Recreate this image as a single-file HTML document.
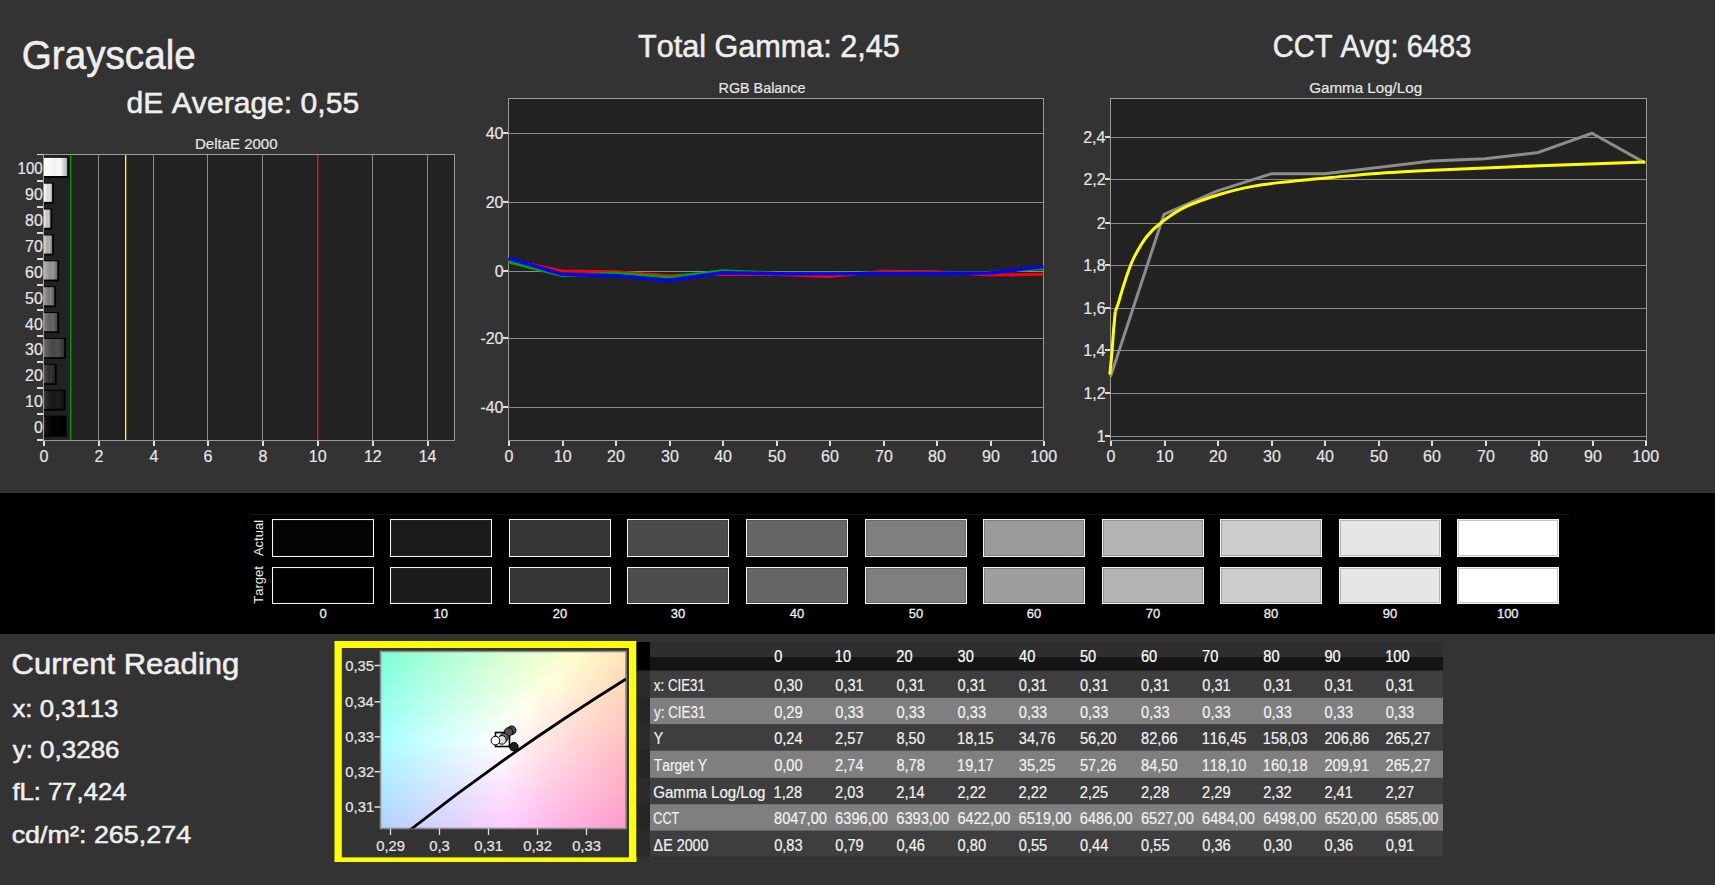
<!DOCTYPE html><html><head><meta charset="utf-8"><style>html,body{margin:0;padding:0;background:#333;overflow:hidden}svg text{font-family:"Liberation Sans",sans-serif;font-kerning:none}</style></head><body><svg width="1715" height="885" viewBox="0 0 1715 885" style="display:block;font-kerning:none"><defs><linearGradient id="bar10" x1="0" x2="1" y1="0" y2="0"><stop offset="0" stop-color="rgb(255,255,255)"/><stop offset="0.1" stop-color="rgb(255,255,255)"/><stop offset="0.45" stop-color="rgb(240,240,240)"/><stop offset="0.68" stop-color="rgb(251,251,251)"/><stop offset="0.9" stop-color="rgb(199,199,199)"/><stop offset="1" stop-color="rgb(163,163,163)"/></linearGradient><linearGradient id="bar9" x1="0" x2="1" y1="0" y2="0"><stop offset="0" stop-color="rgb(255,255,255)"/><stop offset="0.1" stop-color="rgb(246,246,246)"/><stop offset="0.45" stop-color="rgb(216,216,216)"/><stop offset="0.68" stop-color="rgb(227,227,227)"/><stop offset="0.9" stop-color="rgb(179,179,179)"/><stop offset="1" stop-color="rgb(147,147,147)"/></linearGradient><linearGradient id="bar8" x1="0" x2="1" y1="0" y2="0"><stop offset="0" stop-color="rgb(246,246,246)"/><stop offset="0.1" stop-color="rgb(220,220,220)"/><stop offset="0.45" stop-color="rgb(192,192,192)"/><stop offset="0.68" stop-color="rgb(202,202,202)"/><stop offset="0.9" stop-color="rgb(159,159,159)"/><stop offset="1" stop-color="rgb(131,131,131)"/></linearGradient><linearGradient id="bar7" x1="0" x2="1" y1="0" y2="0"><stop offset="0" stop-color="rgb(221,221,221)"/><stop offset="0.1" stop-color="rgb(195,195,195)"/><stop offset="0.45" stop-color="rgb(168,168,168)"/><stop offset="0.68" stop-color="rgb(178,178,178)"/><stop offset="0.9" stop-color="rgb(140,140,140)"/><stop offset="1" stop-color="rgb(115,115,115)"/></linearGradient><linearGradient id="bar6" x1="0" x2="1" y1="0" y2="0"><stop offset="0" stop-color="rgb(195,195,195)"/><stop offset="0.1" stop-color="rgb(169,169,169)"/><stop offset="0.45" stop-color="rgb(143,143,143)"/><stop offset="0.68" stop-color="rgb(152,152,152)"/><stop offset="0.9" stop-color="rgb(119,119,119)"/><stop offset="1" stop-color="rgb(98,98,98)"/></linearGradient><linearGradient id="bar5" x1="0" x2="1" y1="0" y2="0"><stop offset="0" stop-color="rgb(170,170,170)"/><stop offset="0.1" stop-color="rgb(144,144,144)"/><stop offset="0.45" stop-color="rgb(120,120,120)"/><stop offset="0.68" stop-color="rgb(128,128,128)"/><stop offset="0.9" stop-color="rgb(100,100,100)"/><stop offset="1" stop-color="rgb(82,82,82)"/></linearGradient><linearGradient id="bar4" x1="0" x2="1" y1="0" y2="0"><stop offset="0" stop-color="rgb(144,144,144)"/><stop offset="0.1" stop-color="rgb(118,118,118)"/><stop offset="0.45" stop-color="rgb(95,95,95)"/><stop offset="0.68" stop-color="rgb(103,103,103)"/><stop offset="0.9" stop-color="rgb(80,80,80)"/><stop offset="1" stop-color="rgb(65,65,65)"/></linearGradient><linearGradient id="bar3" x1="0" x2="1" y1="0" y2="0"><stop offset="0" stop-color="rgb(119,119,119)"/><stop offset="0.1" stop-color="rgb(93,93,93)"/><stop offset="0.45" stop-color="rgb(71,71,71)"/><stop offset="0.68" stop-color="rgb(79,79,79)"/><stop offset="0.9" stop-color="rgb(60,60,60)"/><stop offset="1" stop-color="rgb(49,49,49)"/></linearGradient><linearGradient id="bar2" x1="0" x2="1" y1="0" y2="0"><stop offset="0" stop-color="rgb(93,93,93)"/><stop offset="0.1" stop-color="rgb(67,67,67)"/><stop offset="0.45" stop-color="rgb(46,46,46)"/><stop offset="0.68" stop-color="rgb(53,53,53)"/><stop offset="0.9" stop-color="rgb(40,40,40)"/><stop offset="1" stop-color="rgb(33,33,33)"/></linearGradient><linearGradient id="bar1" x1="0" x2="1" y1="0" y2="0"><stop offset="0" stop-color="rgb(68,68,68)"/><stop offset="0.1" stop-color="rgb(42,42,42)"/><stop offset="0.45" stop-color="rgb(23,23,23)"/><stop offset="0.68" stop-color="rgb(29,29,29)"/><stop offset="0.9" stop-color="rgb(20,20,20)"/><stop offset="1" stop-color="rgb(17,17,17)"/></linearGradient><linearGradient id="bar0" x1="0" x2="1" y1="0" y2="0"><stop offset="0" stop-color="rgb(42,42,42)"/><stop offset="0.1" stop-color="rgb(16,16,16)"/><stop offset="0.45" stop-color="rgb(0,0,0)"/><stop offset="0.68" stop-color="rgb(4,4,4)"/><stop offset="0.9" stop-color="rgb(0,0,0)"/><stop offset="1" stop-color="rgb(0,0,0)"/></linearGradient><linearGradient id="cr0"><stop offset="0.00" stop-color="#7bffd6"/><stop offset="0.10" stop-color="#91ffd5"/><stop offset="0.20" stop-color="#a4ffd4"/><stop offset="0.30" stop-color="#b6ffd3"/><stop offset="0.40" stop-color="#c6ffd2"/><stop offset="0.50" stop-color="#d5ffd0"/><stop offset="0.60" stop-color="#e4ffcf"/><stop offset="0.70" stop-color="#f2ffce"/><stop offset="0.80" stop-color="#fffecc"/><stop offset="0.90" stop-color="#fff1c0"/><stop offset="1.00" stop-color="#ffe6b5"/></linearGradient><linearGradient id="cr1"><stop offset="0.00" stop-color="#7bffd7"/><stop offset="0.10" stop-color="#92ffd6"/><stop offset="0.20" stop-color="#a5ffd5"/><stop offset="0.30" stop-color="#b6ffd4"/><stop offset="0.40" stop-color="#c7ffd3"/><stop offset="0.50" stop-color="#d6ffd1"/><stop offset="0.60" stop-color="#e5ffd0"/><stop offset="0.70" stop-color="#f3ffcf"/><stop offset="0.80" stop-color="#fffdcc"/><stop offset="0.90" stop-color="#fff0c0"/><stop offset="1.00" stop-color="#ffe5b5"/></linearGradient><linearGradient id="cr2"><stop offset="0.00" stop-color="#7cffd8"/><stop offset="0.10" stop-color="#93ffd7"/><stop offset="0.20" stop-color="#a6ffd6"/><stop offset="0.30" stop-color="#b7ffd5"/><stop offset="0.40" stop-color="#c8ffd4"/><stop offset="0.50" stop-color="#d7ffd2"/><stop offset="0.60" stop-color="#e6ffd1"/><stop offset="0.70" stop-color="#f4ffd0"/><stop offset="0.80" stop-color="#fffccc"/><stop offset="0.90" stop-color="#fff0c0"/><stop offset="1.00" stop-color="#ffe4b6"/></linearGradient><linearGradient id="cr3"><stop offset="0.00" stop-color="#7dffd9"/><stop offset="0.10" stop-color="#93ffd8"/><stop offset="0.20" stop-color="#a7ffd7"/><stop offset="0.30" stop-color="#b8ffd6"/><stop offset="0.40" stop-color="#c8ffd5"/><stop offset="0.50" stop-color="#d8ffd3"/><stop offset="0.60" stop-color="#e7ffd2"/><stop offset="0.70" stop-color="#f5ffd1"/><stop offset="0.80" stop-color="#fffbcc"/><stop offset="0.90" stop-color="#ffefc1"/><stop offset="1.00" stop-color="#ffe3b6"/></linearGradient><linearGradient id="cr4"><stop offset="0.00" stop-color="#7effd9"/><stop offset="0.10" stop-color="#94ffd9"/><stop offset="0.20" stop-color="#a8ffd8"/><stop offset="0.30" stop-color="#b9ffd7"/><stop offset="0.40" stop-color="#c9ffd5"/><stop offset="0.50" stop-color="#d9ffd4"/><stop offset="0.60" stop-color="#e7ffd3"/><stop offset="0.70" stop-color="#f6ffd2"/><stop offset="0.80" stop-color="#fffacd"/><stop offset="0.90" stop-color="#ffeec1"/><stop offset="1.00" stop-color="#ffe2b6"/></linearGradient><linearGradient id="cr5"><stop offset="0.00" stop-color="#7fffda"/><stop offset="0.10" stop-color="#95ffd9"/><stop offset="0.20" stop-color="#a8ffd8"/><stop offset="0.30" stop-color="#baffd7"/><stop offset="0.40" stop-color="#caffd6"/><stop offset="0.50" stop-color="#daffd5"/><stop offset="0.60" stop-color="#e8ffd4"/><stop offset="0.70" stop-color="#f7ffd3"/><stop offset="0.80" stop-color="#fff9cd"/><stop offset="0.90" stop-color="#ffedc1"/><stop offset="1.00" stop-color="#ffe2b7"/></linearGradient><linearGradient id="cr6"><stop offset="0.00" stop-color="#80ffdb"/><stop offset="0.10" stop-color="#96ffda"/><stop offset="0.20" stop-color="#a9ffd9"/><stop offset="0.30" stop-color="#bbffd8"/><stop offset="0.40" stop-color="#cbffd7"/><stop offset="0.50" stop-color="#daffd6"/><stop offset="0.60" stop-color="#e9ffd5"/><stop offset="0.70" stop-color="#f8ffd4"/><stop offset="0.80" stop-color="#fff9cd"/><stop offset="0.90" stop-color="#ffecc2"/><stop offset="1.00" stop-color="#ffe1b7"/></linearGradient><linearGradient id="cr7"><stop offset="0.00" stop-color="#81ffdc"/><stop offset="0.10" stop-color="#97ffdb"/><stop offset="0.20" stop-color="#aaffda"/><stop offset="0.30" stop-color="#bcffd9"/><stop offset="0.40" stop-color="#ccffd8"/><stop offset="0.50" stop-color="#dbffd7"/><stop offset="0.60" stop-color="#eaffd6"/><stop offset="0.70" stop-color="#f9ffd5"/><stop offset="0.80" stop-color="#fff8ce"/><stop offset="0.90" stop-color="#ffebc2"/><stop offset="1.00" stop-color="#ffe0b7"/></linearGradient><linearGradient id="cr8"><stop offset="0.00" stop-color="#82ffdd"/><stop offset="0.10" stop-color="#98ffdc"/><stop offset="0.20" stop-color="#abffdb"/><stop offset="0.30" stop-color="#bdffda"/><stop offset="0.40" stop-color="#cdffd9"/><stop offset="0.50" stop-color="#dcffd8"/><stop offset="0.60" stop-color="#ebffd7"/><stop offset="0.70" stop-color="#f9ffd6"/><stop offset="0.80" stop-color="#fff7ce"/><stop offset="0.90" stop-color="#ffeac2"/><stop offset="1.00" stop-color="#ffdfb8"/></linearGradient><linearGradient id="cr9"><stop offset="0.00" stop-color="#83ffde"/><stop offset="0.10" stop-color="#99ffdd"/><stop offset="0.20" stop-color="#acffdc"/><stop offset="0.30" stop-color="#bdffdb"/><stop offset="0.40" stop-color="#ceffda"/><stop offset="0.50" stop-color="#ddffd9"/><stop offset="0.60" stop-color="#ecffd8"/><stop offset="0.70" stop-color="#faffd7"/><stop offset="0.80" stop-color="#fff6ce"/><stop offset="0.90" stop-color="#ffe9c2"/><stop offset="1.00" stop-color="#ffdeb8"/></linearGradient><linearGradient id="cr10"><stop offset="0.00" stop-color="#84ffdf"/><stop offset="0.10" stop-color="#9affde"/><stop offset="0.20" stop-color="#adffdd"/><stop offset="0.30" stop-color="#beffdc"/><stop offset="0.40" stop-color="#cfffdb"/><stop offset="0.50" stop-color="#deffda"/><stop offset="0.60" stop-color="#edffd9"/><stop offset="0.70" stop-color="#fbffd8"/><stop offset="0.80" stop-color="#fff5ce"/><stop offset="0.90" stop-color="#ffe9c3"/><stop offset="1.00" stop-color="#ffdeb8"/></linearGradient><linearGradient id="cr11"><stop offset="0.00" stop-color="#85ffe0"/><stop offset="0.10" stop-color="#9bffdf"/><stop offset="0.20" stop-color="#aeffde"/><stop offset="0.30" stop-color="#bfffdd"/><stop offset="0.40" stop-color="#cfffdc"/><stop offset="0.50" stop-color="#dfffdb"/><stop offset="0.60" stop-color="#eeffda"/><stop offset="0.70" stop-color="#fcffd9"/><stop offset="0.80" stop-color="#fff4cf"/><stop offset="0.90" stop-color="#ffe8c3"/><stop offset="1.00" stop-color="#ffddb9"/></linearGradient><linearGradient id="cr12"><stop offset="0.00" stop-color="#86ffe0"/><stop offset="0.10" stop-color="#9cffe0"/><stop offset="0.20" stop-color="#afffdf"/><stop offset="0.30" stop-color="#c0ffde"/><stop offset="0.40" stop-color="#d0ffdd"/><stop offset="0.50" stop-color="#e0ffdc"/><stop offset="0.60" stop-color="#efffdb"/><stop offset="0.70" stop-color="#fdffda"/><stop offset="0.80" stop-color="#fff3cf"/><stop offset="0.90" stop-color="#ffe7c3"/><stop offset="1.00" stop-color="#ffdcb9"/></linearGradient><linearGradient id="cr13"><stop offset="0.00" stop-color="#87ffe1"/><stop offset="0.10" stop-color="#9dffe1"/><stop offset="0.20" stop-color="#b0ffe0"/><stop offset="0.30" stop-color="#c1ffdf"/><stop offset="0.40" stop-color="#d1ffde"/><stop offset="0.50" stop-color="#e1ffdd"/><stop offset="0.60" stop-color="#f0ffdc"/><stop offset="0.70" stop-color="#feffdb"/><stop offset="0.80" stop-color="#fff2cf"/><stop offset="0.90" stop-color="#ffe6c4"/><stop offset="1.00" stop-color="#ffdbb9"/></linearGradient><linearGradient id="cr14"><stop offset="0.00" stop-color="#88ffe2"/><stop offset="0.10" stop-color="#9dffe1"/><stop offset="0.20" stop-color="#b0ffe1"/><stop offset="0.30" stop-color="#c2ffe0"/><stop offset="0.40" stop-color="#d2ffdf"/><stop offset="0.50" stop-color="#e2ffde"/><stop offset="0.60" stop-color="#f1ffdd"/><stop offset="0.70" stop-color="#ffffdc"/><stop offset="0.80" stop-color="#fff1cf"/><stop offset="0.90" stop-color="#ffe5c4"/><stop offset="1.00" stop-color="#ffdab9"/></linearGradient><linearGradient id="cr15"><stop offset="0.00" stop-color="#89ffe3"/><stop offset="0.10" stop-color="#9effe2"/><stop offset="0.20" stop-color="#b1ffe2"/><stop offset="0.30" stop-color="#c3ffe1"/><stop offset="0.40" stop-color="#d3ffe0"/><stop offset="0.50" stop-color="#e3ffdf"/><stop offset="0.60" stop-color="#f2ffde"/><stop offset="0.70" stop-color="#fffedc"/><stop offset="0.80" stop-color="#fff0d0"/><stop offset="0.90" stop-color="#ffe4c4"/><stop offset="1.00" stop-color="#ffd9ba"/></linearGradient><linearGradient id="cr16"><stop offset="0.00" stop-color="#8affe4"/><stop offset="0.10" stop-color="#9fffe3"/><stop offset="0.20" stop-color="#b2ffe3"/><stop offset="0.30" stop-color="#c4ffe2"/><stop offset="0.40" stop-color="#d4ffe1"/><stop offset="0.50" stop-color="#e4ffe0"/><stop offset="0.60" stop-color="#f3ffdf"/><stop offset="0.70" stop-color="#fffddd"/><stop offset="0.80" stop-color="#ffefd0"/><stop offset="0.90" stop-color="#ffe3c4"/><stop offset="1.00" stop-color="#ffd9ba"/></linearGradient><linearGradient id="cr17"><stop offset="0.00" stop-color="#8bffe5"/><stop offset="0.10" stop-color="#a0ffe4"/><stop offset="0.20" stop-color="#b3ffe4"/><stop offset="0.30" stop-color="#c5ffe3"/><stop offset="0.40" stop-color="#d5ffe2"/><stop offset="0.50" stop-color="#e5ffe1"/><stop offset="0.60" stop-color="#f4ffe0"/><stop offset="0.70" stop-color="#fffcdd"/><stop offset="0.80" stop-color="#ffeed0"/><stop offset="0.90" stop-color="#ffe3c5"/><stop offset="1.00" stop-color="#ffd8ba"/></linearGradient><linearGradient id="cr18"><stop offset="0.00" stop-color="#8cffe6"/><stop offset="0.10" stop-color="#a1ffe5"/><stop offset="0.20" stop-color="#b4ffe5"/><stop offset="0.30" stop-color="#c5ffe4"/><stop offset="0.40" stop-color="#d6ffe3"/><stop offset="0.50" stop-color="#e5ffe2"/><stop offset="0.60" stop-color="#f5ffe2"/><stop offset="0.70" stop-color="#fffbdd"/><stop offset="0.80" stop-color="#ffeed0"/><stop offset="0.90" stop-color="#ffe2c5"/><stop offset="1.00" stop-color="#ffd7bb"/></linearGradient><linearGradient id="cr19"><stop offset="0.00" stop-color="#8dffe7"/><stop offset="0.10" stop-color="#a2ffe6"/><stop offset="0.20" stop-color="#b5ffe5"/><stop offset="0.30" stop-color="#c6ffe5"/><stop offset="0.40" stop-color="#d7ffe4"/><stop offset="0.50" stop-color="#e6ffe3"/><stop offset="0.60" stop-color="#f6ffe3"/><stop offset="0.70" stop-color="#fffadd"/><stop offset="0.80" stop-color="#ffedd1"/><stop offset="0.90" stop-color="#ffe1c5"/><stop offset="1.00" stop-color="#ffd6bb"/></linearGradient><linearGradient id="cr20"><stop offset="0.00" stop-color="#8effe8"/><stop offset="0.10" stop-color="#a3ffe7"/><stop offset="0.20" stop-color="#b6ffe6"/><stop offset="0.30" stop-color="#c7ffe6"/><stop offset="0.40" stop-color="#d8ffe5"/><stop offset="0.50" stop-color="#e7ffe4"/><stop offset="0.60" stop-color="#f7ffe4"/><stop offset="0.70" stop-color="#fff9dd"/><stop offset="0.80" stop-color="#ffecd1"/><stop offset="0.90" stop-color="#ffe0c5"/><stop offset="1.00" stop-color="#ffd5bb"/></linearGradient><linearGradient id="cr21"><stop offset="0.00" stop-color="#8fffe9"/><stop offset="0.10" stop-color="#a4ffe8"/><stop offset="0.20" stop-color="#b7ffe7"/><stop offset="0.30" stop-color="#c8ffe7"/><stop offset="0.40" stop-color="#d9ffe6"/><stop offset="0.50" stop-color="#e8ffe5"/><stop offset="0.60" stop-color="#f8ffe5"/><stop offset="0.70" stop-color="#fff8de"/><stop offset="0.80" stop-color="#ffebd1"/><stop offset="0.90" stop-color="#ffdfc6"/><stop offset="1.00" stop-color="#ffd4bb"/></linearGradient><linearGradient id="cr22"><stop offset="0.00" stop-color="#90ffe9"/><stop offset="0.10" stop-color="#a5ffe9"/><stop offset="0.20" stop-color="#b8ffe8"/><stop offset="0.30" stop-color="#c9ffe8"/><stop offset="0.40" stop-color="#daffe7"/><stop offset="0.50" stop-color="#e9ffe7"/><stop offset="0.60" stop-color="#f8ffe6"/><stop offset="0.70" stop-color="#fff7de"/><stop offset="0.80" stop-color="#ffead1"/><stop offset="0.90" stop-color="#ffdec6"/><stop offset="1.00" stop-color="#ffd4bc"/></linearGradient><linearGradient id="cr23"><stop offset="0.00" stop-color="#91ffea"/><stop offset="0.10" stop-color="#a6ffea"/><stop offset="0.20" stop-color="#b9ffe9"/><stop offset="0.30" stop-color="#caffe9"/><stop offset="0.40" stop-color="#dbffe8"/><stop offset="0.50" stop-color="#eaffe8"/><stop offset="0.60" stop-color="#faffe7"/><stop offset="0.70" stop-color="#fff6de"/><stop offset="0.80" stop-color="#ffe9d1"/><stop offset="0.90" stop-color="#ffddc6"/><stop offset="1.00" stop-color="#ffd3bc"/></linearGradient><linearGradient id="cr24"><stop offset="0.00" stop-color="#92ffeb"/><stop offset="0.10" stop-color="#a7ffeb"/><stop offset="0.20" stop-color="#baffea"/><stop offset="0.30" stop-color="#cbffea"/><stop offset="0.40" stop-color="#dbffe9"/><stop offset="0.50" stop-color="#ebffe9"/><stop offset="0.60" stop-color="#fbffe8"/><stop offset="0.70" stop-color="#fff5de"/><stop offset="0.80" stop-color="#ffe8d2"/><stop offset="0.90" stop-color="#ffdcc7"/><stop offset="1.00" stop-color="#ffd2bc"/></linearGradient><linearGradient id="cr25"><stop offset="0.00" stop-color="#93ffec"/><stop offset="0.10" stop-color="#a8ffec"/><stop offset="0.20" stop-color="#baffeb"/><stop offset="0.30" stop-color="#ccffeb"/><stop offset="0.40" stop-color="#dcffea"/><stop offset="0.50" stop-color="#ecffea"/><stop offset="0.60" stop-color="#fcffe9"/><stop offset="0.70" stop-color="#fff4de"/><stop offset="0.80" stop-color="#ffe7d2"/><stop offset="0.90" stop-color="#ffdcc7"/><stop offset="1.00" stop-color="#ffd1bd"/></linearGradient><linearGradient id="cr26"><stop offset="0.00" stop-color="#94ffed"/><stop offset="0.10" stop-color="#a9ffed"/><stop offset="0.20" stop-color="#bbffec"/><stop offset="0.30" stop-color="#cdffec"/><stop offset="0.40" stop-color="#ddffeb"/><stop offset="0.50" stop-color="#edffeb"/><stop offset="0.60" stop-color="#fdffea"/><stop offset="0.70" stop-color="#fff3df"/><stop offset="0.80" stop-color="#ffe6d2"/><stop offset="0.90" stop-color="#ffdbc7"/><stop offset="1.00" stop-color="#ffd0bd"/></linearGradient><linearGradient id="cr27"><stop offset="0.00" stop-color="#95ffee"/><stop offset="0.10" stop-color="#aaffee"/><stop offset="0.20" stop-color="#bcffed"/><stop offset="0.30" stop-color="#ceffed"/><stop offset="0.40" stop-color="#deffec"/><stop offset="0.50" stop-color="#eeffec"/><stop offset="0.60" stop-color="#feffeb"/><stop offset="0.70" stop-color="#fff2df"/><stop offset="0.80" stop-color="#ffe5d2"/><stop offset="0.90" stop-color="#ffdac7"/><stop offset="1.00" stop-color="#ffcfbd"/></linearGradient><linearGradient id="cr28"><stop offset="0.00" stop-color="#96ffef"/><stop offset="0.10" stop-color="#abffef"/><stop offset="0.20" stop-color="#bdffee"/><stop offset="0.30" stop-color="#cfffee"/><stop offset="0.40" stop-color="#dfffed"/><stop offset="0.50" stop-color="#efffed"/><stop offset="0.60" stop-color="#ffffec"/><stop offset="0.70" stop-color="#fff1df"/><stop offset="0.80" stop-color="#ffe4d3"/><stop offset="0.90" stop-color="#ffd9c8"/><stop offset="1.00" stop-color="#ffcfbd"/></linearGradient><linearGradient id="cr29"><stop offset="0.00" stop-color="#97fff0"/><stop offset="0.10" stop-color="#abfff0"/><stop offset="0.20" stop-color="#beffef"/><stop offset="0.30" stop-color="#d0ffef"/><stop offset="0.40" stop-color="#e0ffee"/><stop offset="0.50" stop-color="#f0ffee"/><stop offset="0.60" stop-color="#fffeed"/><stop offset="0.70" stop-color="#fff0df"/><stop offset="0.80" stop-color="#ffe3d3"/><stop offset="0.90" stop-color="#ffd8c8"/><stop offset="1.00" stop-color="#ffcebe"/></linearGradient><linearGradient id="cr30"><stop offset="0.00" stop-color="#98fff1"/><stop offset="0.10" stop-color="#acfff1"/><stop offset="0.20" stop-color="#bffff0"/><stop offset="0.30" stop-color="#d1fff0"/><stop offset="0.40" stop-color="#e1fff0"/><stop offset="0.50" stop-color="#f1ffef"/><stop offset="0.60" stop-color="#fffded"/><stop offset="0.70" stop-color="#ffefdf"/><stop offset="0.80" stop-color="#ffe3d3"/><stop offset="0.90" stop-color="#ffd7c8"/><stop offset="1.00" stop-color="#ffcdbe"/></linearGradient><linearGradient id="cr31"><stop offset="0.00" stop-color="#99fff2"/><stop offset="0.10" stop-color="#adfff2"/><stop offset="0.20" stop-color="#c0fff1"/><stop offset="0.30" stop-color="#d2fff1"/><stop offset="0.40" stop-color="#e2fff1"/><stop offset="0.50" stop-color="#f2fff0"/><stop offset="0.60" stop-color="#fffced"/><stop offset="0.70" stop-color="#ffeee0"/><stop offset="0.80" stop-color="#ffe2d3"/><stop offset="0.90" stop-color="#ffd6c8"/><stop offset="1.00" stop-color="#ffccbe"/></linearGradient><linearGradient id="cr32"><stop offset="0.00" stop-color="#9afff3"/><stop offset="0.10" stop-color="#aefff3"/><stop offset="0.20" stop-color="#c1fff2"/><stop offset="0.30" stop-color="#d3fff2"/><stop offset="0.40" stop-color="#e3fff2"/><stop offset="0.50" stop-color="#f3fff1"/><stop offset="0.60" stop-color="#fffbed"/><stop offset="0.70" stop-color="#ffede0"/><stop offset="0.80" stop-color="#ffe1d4"/><stop offset="0.90" stop-color="#ffd6c9"/><stop offset="1.00" stop-color="#ffcbbf"/></linearGradient><linearGradient id="cr33"><stop offset="0.00" stop-color="#9bfff4"/><stop offset="0.10" stop-color="#affff4"/><stop offset="0.20" stop-color="#c2fff3"/><stop offset="0.30" stop-color="#d4fff3"/><stop offset="0.40" stop-color="#e4fff3"/><stop offset="0.50" stop-color="#f4fff2"/><stop offset="0.60" stop-color="#fffaee"/><stop offset="0.70" stop-color="#ffece0"/><stop offset="0.80" stop-color="#ffe0d4"/><stop offset="0.90" stop-color="#ffd5c9"/><stop offset="1.00" stop-color="#ffcbbf"/></linearGradient><linearGradient id="cr34"><stop offset="0.00" stop-color="#9cfff5"/><stop offset="0.10" stop-color="#b0fff5"/><stop offset="0.20" stop-color="#c3fff4"/><stop offset="0.30" stop-color="#d5fff4"/><stop offset="0.40" stop-color="#e5fff4"/><stop offset="0.50" stop-color="#f5fff4"/><stop offset="0.60" stop-color="#fff9ee"/><stop offset="0.70" stop-color="#ffebe0"/><stop offset="0.80" stop-color="#ffdfd4"/><stop offset="0.90" stop-color="#ffd4c9"/><stop offset="1.00" stop-color="#ffcabf"/></linearGradient><linearGradient id="cr35"><stop offset="0.00" stop-color="#9dfff6"/><stop offset="0.10" stop-color="#b1fff6"/><stop offset="0.20" stop-color="#c4fff5"/><stop offset="0.30" stop-color="#d6fff5"/><stop offset="0.40" stop-color="#e6fff5"/><stop offset="0.50" stop-color="#f6fff5"/><stop offset="0.60" stop-color="#fff8ee"/><stop offset="0.70" stop-color="#ffeae0"/><stop offset="0.80" stop-color="#ffded4"/><stop offset="0.90" stop-color="#ffd3c9"/><stop offset="1.00" stop-color="#ffc9bf"/></linearGradient><linearGradient id="cr36"><stop offset="0.00" stop-color="#9efff7"/><stop offset="0.10" stop-color="#b2fff7"/><stop offset="0.20" stop-color="#c5fff7"/><stop offset="0.30" stop-color="#d7fff6"/><stop offset="0.40" stop-color="#e7fff6"/><stop offset="0.50" stop-color="#f7fff6"/><stop offset="0.60" stop-color="#fff7ee"/><stop offset="0.70" stop-color="#ffe9e0"/><stop offset="0.80" stop-color="#ffddd4"/><stop offset="0.90" stop-color="#ffd2ca"/><stop offset="1.00" stop-color="#ffc8c0"/></linearGradient><linearGradient id="cr37"><stop offset="0.00" stop-color="#9ffff8"/><stop offset="0.10" stop-color="#b3fff8"/><stop offset="0.20" stop-color="#c6fff8"/><stop offset="0.30" stop-color="#d8fff7"/><stop offset="0.40" stop-color="#e8fff7"/><stop offset="0.50" stop-color="#f8fff7"/><stop offset="0.60" stop-color="#fff6ee"/><stop offset="0.70" stop-color="#ffe8e1"/><stop offset="0.80" stop-color="#ffdcd5"/><stop offset="0.90" stop-color="#ffd1ca"/><stop offset="1.00" stop-color="#ffc7c0"/></linearGradient><linearGradient id="cr38"><stop offset="0.00" stop-color="#a0fff9"/><stop offset="0.10" stop-color="#b4fff9"/><stop offset="0.20" stop-color="#c7fff9"/><stop offset="0.30" stop-color="#d9fff8"/><stop offset="0.40" stop-color="#e9fff8"/><stop offset="0.50" stop-color="#fafff8"/><stop offset="0.60" stop-color="#fff5ee"/><stop offset="0.70" stop-color="#ffe7e1"/><stop offset="0.80" stop-color="#ffdbd5"/><stop offset="0.90" stop-color="#ffd0ca"/><stop offset="1.00" stop-color="#ffc6c0"/></linearGradient><linearGradient id="cr39"><stop offset="0.00" stop-color="#a1fffa"/><stop offset="0.10" stop-color="#b5fffa"/><stop offset="0.20" stop-color="#c8fffa"/><stop offset="0.30" stop-color="#dafffa"/><stop offset="0.40" stop-color="#eafff9"/><stop offset="0.50" stop-color="#fbfff9"/><stop offset="0.60" stop-color="#fff4ee"/><stop offset="0.70" stop-color="#ffe6e1"/><stop offset="0.80" stop-color="#ffdad5"/><stop offset="0.90" stop-color="#ffcfca"/><stop offset="1.00" stop-color="#ffc6c0"/></linearGradient><linearGradient id="cr40"><stop offset="0.00" stop-color="#a2fffb"/><stop offset="0.10" stop-color="#b6fffb"/><stop offset="0.20" stop-color="#c9fffb"/><stop offset="0.30" stop-color="#dbfffb"/><stop offset="0.40" stop-color="#ebfffb"/><stop offset="0.50" stop-color="#fcfffa"/><stop offset="0.60" stop-color="#fff3ef"/><stop offset="0.70" stop-color="#ffe6e1"/><stop offset="0.80" stop-color="#ffd9d5"/><stop offset="0.90" stop-color="#ffcfca"/><stop offset="1.00" stop-color="#ffc5c1"/></linearGradient><linearGradient id="cr41"><stop offset="0.00" stop-color="#a3fffc"/><stop offset="0.10" stop-color="#b7fffc"/><stop offset="0.20" stop-color="#cafffc"/><stop offset="0.30" stop-color="#dcfffc"/><stop offset="0.40" stop-color="#ecfffc"/><stop offset="0.50" stop-color="#fdfffc"/><stop offset="0.60" stop-color="#fff2ef"/><stop offset="0.70" stop-color="#ffe5e1"/><stop offset="0.80" stop-color="#ffd9d5"/><stop offset="0.90" stop-color="#ffcecb"/><stop offset="1.00" stop-color="#ffc4c1"/></linearGradient><linearGradient id="cr42"><stop offset="0.00" stop-color="#a4fffd"/><stop offset="0.10" stop-color="#b8fffd"/><stop offset="0.20" stop-color="#cbfffd"/><stop offset="0.30" stop-color="#ddfffd"/><stop offset="0.40" stop-color="#eefffd"/><stop offset="0.50" stop-color="#fefffd"/><stop offset="0.60" stop-color="#fff1ef"/><stop offset="0.70" stop-color="#ffe4e2"/><stop offset="0.80" stop-color="#ffd8d6"/><stop offset="0.90" stop-color="#ffcdcb"/><stop offset="1.00" stop-color="#ffc3c1"/></linearGradient><linearGradient id="cr43"><stop offset="0.00" stop-color="#a5fffe"/><stop offset="0.10" stop-color="#b9fffe"/><stop offset="0.20" stop-color="#ccfffe"/><stop offset="0.30" stop-color="#defffe"/><stop offset="0.40" stop-color="#effffe"/><stop offset="0.50" stop-color="#fffffe"/><stop offset="0.60" stop-color="#fff0ef"/><stop offset="0.70" stop-color="#ffe3e2"/><stop offset="0.80" stop-color="#ffd7d6"/><stop offset="0.90" stop-color="#ffcccb"/><stop offset="1.00" stop-color="#ffc2c1"/></linearGradient><linearGradient id="cr44"><stop offset="0.00" stop-color="#a6ffff"/><stop offset="0.10" stop-color="#baffff"/><stop offset="0.20" stop-color="#cdffff"/><stop offset="0.30" stop-color="#dfffff"/><stop offset="0.40" stop-color="#f0ffff"/><stop offset="0.50" stop-color="#fffefe"/><stop offset="0.60" stop-color="#ffefef"/><stop offset="0.70" stop-color="#ffe2e2"/><stop offset="0.80" stop-color="#ffd6d6"/><stop offset="0.90" stop-color="#ffcbcb"/><stop offset="1.00" stop-color="#ffc1c2"/></linearGradient><linearGradient id="cr45"><stop offset="0.00" stop-color="#a6feff"/><stop offset="0.10" stop-color="#bafeff"/><stop offset="0.20" stop-color="#cdfeff"/><stop offset="0.30" stop-color="#dffeff"/><stop offset="0.40" stop-color="#f0feff"/><stop offset="0.50" stop-color="#fffdfe"/><stop offset="0.60" stop-color="#ffeeef"/><stop offset="0.70" stop-color="#ffe1e2"/><stop offset="0.80" stop-color="#ffd5d6"/><stop offset="0.90" stop-color="#ffcacc"/><stop offset="1.00" stop-color="#ffc0c2"/></linearGradient><linearGradient id="cr46"><stop offset="0.00" stop-color="#a6fdff"/><stop offset="0.10" stop-color="#bbfdff"/><stop offset="0.20" stop-color="#cdfdff"/><stop offset="0.30" stop-color="#dffdff"/><stop offset="0.40" stop-color="#effdff"/><stop offset="0.50" stop-color="#fffcfe"/><stop offset="0.60" stop-color="#ffedef"/><stop offset="0.70" stop-color="#ffe0e2"/><stop offset="0.80" stop-color="#ffd4d6"/><stop offset="0.90" stop-color="#ffc9cc"/><stop offset="1.00" stop-color="#ffc0c2"/></linearGradient><linearGradient id="cr47"><stop offset="0.00" stop-color="#a7fcff"/><stop offset="0.10" stop-color="#bbfcff"/><stop offset="0.20" stop-color="#cdfcff"/><stop offset="0.30" stop-color="#dffcff"/><stop offset="0.40" stop-color="#effbff"/><stop offset="0.50" stop-color="#fffbfe"/><stop offset="0.60" stop-color="#ffecf0"/><stop offset="0.70" stop-color="#ffdfe2"/><stop offset="0.80" stop-color="#ffd3d7"/><stop offset="0.90" stop-color="#ffc8cc"/><stop offset="1.00" stop-color="#ffbfc2"/></linearGradient><linearGradient id="cr48"><stop offset="0.00" stop-color="#a7fbff"/><stop offset="0.10" stop-color="#bbfbff"/><stop offset="0.20" stop-color="#cdfbff"/><stop offset="0.30" stop-color="#dffaff"/><stop offset="0.40" stop-color="#effaff"/><stop offset="0.50" stop-color="#fffafe"/><stop offset="0.60" stop-color="#ffebf0"/><stop offset="0.70" stop-color="#ffdee3"/><stop offset="0.80" stop-color="#ffd2d7"/><stop offset="0.90" stop-color="#ffc8cc"/><stop offset="1.00" stop-color="#ffbec3"/></linearGradient><linearGradient id="cr49"><stop offset="0.00" stop-color="#a7faff"/><stop offset="0.10" stop-color="#bbfaff"/><stop offset="0.20" stop-color="#cefaff"/><stop offset="0.30" stop-color="#dff9ff"/><stop offset="0.40" stop-color="#eff9ff"/><stop offset="0.50" stop-color="#fff8ff"/><stop offset="0.60" stop-color="#ffeaf0"/><stop offset="0.70" stop-color="#ffdde3"/><stop offset="0.80" stop-color="#ffd1d7"/><stop offset="0.90" stop-color="#ffc7cc"/><stop offset="1.00" stop-color="#ffbdc3"/></linearGradient><linearGradient id="cr50"><stop offset="0.00" stop-color="#a8f9ff"/><stop offset="0.10" stop-color="#bbf9ff"/><stop offset="0.20" stop-color="#cef8ff"/><stop offset="0.30" stop-color="#dff8ff"/><stop offset="0.40" stop-color="#eff8ff"/><stop offset="0.50" stop-color="#fff7ff"/><stop offset="0.60" stop-color="#ffe9f0"/><stop offset="0.70" stop-color="#ffdce3"/><stop offset="0.80" stop-color="#ffd0d7"/><stop offset="0.90" stop-color="#ffc6cd"/><stop offset="1.00" stop-color="#ffbcc3"/></linearGradient><linearGradient id="cr51"><stop offset="0.00" stop-color="#a8f8ff"/><stop offset="0.10" stop-color="#bcf8ff"/><stop offset="0.20" stop-color="#cef7ff"/><stop offset="0.30" stop-color="#dff7ff"/><stop offset="0.40" stop-color="#eff7ff"/><stop offset="0.50" stop-color="#fff6ff"/><stop offset="0.60" stop-color="#ffe8f0"/><stop offset="0.70" stop-color="#ffdbe3"/><stop offset="0.80" stop-color="#ffcfd7"/><stop offset="0.90" stop-color="#ffc5cd"/><stop offset="1.00" stop-color="#ffbbc3"/></linearGradient><linearGradient id="cr52"><stop offset="0.00" stop-color="#a8f7ff"/><stop offset="0.10" stop-color="#bcf7ff"/><stop offset="0.20" stop-color="#cef6ff"/><stop offset="0.30" stop-color="#dff6ff"/><stop offset="0.40" stop-color="#eff6ff"/><stop offset="0.50" stop-color="#fff5ff"/><stop offset="0.60" stop-color="#ffe7f0"/><stop offset="0.70" stop-color="#ffdae3"/><stop offset="0.80" stop-color="#ffcfd8"/><stop offset="0.90" stop-color="#ffc4cd"/><stop offset="1.00" stop-color="#ffbbc4"/></linearGradient><linearGradient id="cr53"><stop offset="0.00" stop-color="#a9f6ff"/><stop offset="0.10" stop-color="#bcf5ff"/><stop offset="0.20" stop-color="#cef5ff"/><stop offset="0.30" stop-color="#dff5ff"/><stop offset="0.40" stop-color="#eff5ff"/><stop offset="0.50" stop-color="#fff4ff"/><stop offset="0.60" stop-color="#ffe6f0"/><stop offset="0.70" stop-color="#ffd9e3"/><stop offset="0.80" stop-color="#ffced8"/><stop offset="0.90" stop-color="#ffc3cd"/><stop offset="1.00" stop-color="#ffbac4"/></linearGradient><linearGradient id="cr54"><stop offset="0.00" stop-color="#a9f5ff"/><stop offset="0.10" stop-color="#bcf4ff"/><stop offset="0.20" stop-color="#cef4ff"/><stop offset="0.30" stop-color="#dff4ff"/><stop offset="0.40" stop-color="#eff3ff"/><stop offset="0.50" stop-color="#fff3ff"/><stop offset="0.60" stop-color="#ffe5f0"/><stop offset="0.70" stop-color="#ffd8e4"/><stop offset="0.80" stop-color="#ffcdd8"/><stop offset="0.90" stop-color="#ffc2ce"/><stop offset="1.00" stop-color="#ffb9c4"/></linearGradient><linearGradient id="cr55"><stop offset="0.00" stop-color="#a9f4ff"/><stop offset="0.10" stop-color="#bcf3ff"/><stop offset="0.20" stop-color="#cef3ff"/><stop offset="0.30" stop-color="#dff3ff"/><stop offset="0.40" stop-color="#eff2ff"/><stop offset="0.50" stop-color="#fff2ff"/><stop offset="0.60" stop-color="#ffe4f1"/><stop offset="0.70" stop-color="#ffd7e4"/><stop offset="0.80" stop-color="#ffccd8"/><stop offset="0.90" stop-color="#ffc1ce"/><stop offset="1.00" stop-color="#ffb8c4"/></linearGradient><linearGradient id="cr56"><stop offset="0.00" stop-color="#a9f3ff"/><stop offset="0.10" stop-color="#bdf2ff"/><stop offset="0.20" stop-color="#cef2ff"/><stop offset="0.30" stop-color="#dff2ff"/><stop offset="0.40" stop-color="#eff1ff"/><stop offset="0.50" stop-color="#fff1ff"/><stop offset="0.60" stop-color="#ffe3f1"/><stop offset="0.70" stop-color="#ffd6e4"/><stop offset="0.80" stop-color="#ffcbd8"/><stop offset="0.90" stop-color="#ffc1ce"/><stop offset="1.00" stop-color="#ffb7c4"/></linearGradient><linearGradient id="cr57"><stop offset="0.00" stop-color="#aaf2ff"/><stop offset="0.10" stop-color="#bdf1ff"/><stop offset="0.20" stop-color="#cff1ff"/><stop offset="0.30" stop-color="#dff0ff"/><stop offset="0.40" stop-color="#eff0ff"/><stop offset="0.50" stop-color="#fff0ff"/><stop offset="0.60" stop-color="#ffe2f1"/><stop offset="0.70" stop-color="#ffd5e4"/><stop offset="0.80" stop-color="#ffcad9"/><stop offset="0.90" stop-color="#ffc0ce"/><stop offset="1.00" stop-color="#ffb6c5"/></linearGradient><linearGradient id="cr58"><stop offset="0.00" stop-color="#aaf1ff"/><stop offset="0.10" stop-color="#bdf0ff"/><stop offset="0.20" stop-color="#cff0ff"/><stop offset="0.30" stop-color="#dfefff"/><stop offset="0.40" stop-color="#efefff"/><stop offset="0.50" stop-color="#ffeeff"/><stop offset="0.60" stop-color="#ffe1f1"/><stop offset="0.70" stop-color="#ffd4e4"/><stop offset="0.80" stop-color="#ffc9d9"/><stop offset="0.90" stop-color="#ffbfce"/><stop offset="1.00" stop-color="#ffb5c5"/></linearGradient><linearGradient id="cr59"><stop offset="0.00" stop-color="#aaf0ff"/><stop offset="0.10" stop-color="#bdefff"/><stop offset="0.20" stop-color="#cfefff"/><stop offset="0.30" stop-color="#dfeeff"/><stop offset="0.40" stop-color="#efeeff"/><stop offset="0.50" stop-color="#ffedff"/><stop offset="0.60" stop-color="#ffe0f1"/><stop offset="0.70" stop-color="#ffd3e4"/><stop offset="0.80" stop-color="#ffc8d9"/><stop offset="0.90" stop-color="#ffbecf"/><stop offset="1.00" stop-color="#ffb5c5"/></linearGradient><linearGradient id="cr60"><stop offset="0.00" stop-color="#abefff"/><stop offset="0.10" stop-color="#bdeeff"/><stop offset="0.20" stop-color="#cfeeff"/><stop offset="0.30" stop-color="#dfedff"/><stop offset="0.40" stop-color="#efedff"/><stop offset="0.50" stop-color="#ffecff"/><stop offset="0.60" stop-color="#ffdff1"/><stop offset="0.70" stop-color="#ffd2e5"/><stop offset="0.80" stop-color="#ffc7d9"/><stop offset="0.90" stop-color="#ffbdcf"/><stop offset="1.00" stop-color="#ffb4c5"/></linearGradient><linearGradient id="cr61"><stop offset="0.00" stop-color="#abeeff"/><stop offset="0.10" stop-color="#beedff"/><stop offset="0.20" stop-color="#cfedff"/><stop offset="0.30" stop-color="#dfecff"/><stop offset="0.40" stop-color="#efecff"/><stop offset="0.50" stop-color="#feebff"/><stop offset="0.60" stop-color="#ffdef1"/><stop offset="0.70" stop-color="#ffd1e5"/><stop offset="0.80" stop-color="#ffc6d9"/><stop offset="0.90" stop-color="#ffbccf"/><stop offset="1.00" stop-color="#ffb3c6"/></linearGradient><linearGradient id="cr62"><stop offset="0.00" stop-color="#abedff"/><stop offset="0.10" stop-color="#beecff"/><stop offset="0.20" stop-color="#cfecff"/><stop offset="0.30" stop-color="#dfebff"/><stop offset="0.40" stop-color="#efeaff"/><stop offset="0.50" stop-color="#feeaff"/><stop offset="0.60" stop-color="#ffddf1"/><stop offset="0.70" stop-color="#ffd0e5"/><stop offset="0.80" stop-color="#ffc5d9"/><stop offset="0.90" stop-color="#ffbbcf"/><stop offset="1.00" stop-color="#ffb2c6"/></linearGradient><linearGradient id="cr63"><stop offset="0.00" stop-color="#abecff"/><stop offset="0.10" stop-color="#beebff"/><stop offset="0.20" stop-color="#cfebff"/><stop offset="0.30" stop-color="#dfeaff"/><stop offset="0.40" stop-color="#efe9ff"/><stop offset="0.50" stop-color="#fee9ff"/><stop offset="0.60" stop-color="#ffdcf2"/><stop offset="0.70" stop-color="#ffcfe5"/><stop offset="0.80" stop-color="#ffc4da"/><stop offset="0.90" stop-color="#ffbacf"/><stop offset="1.00" stop-color="#ffb1c6"/></linearGradient><linearGradient id="cr64"><stop offset="0.00" stop-color="#acebff"/><stop offset="0.10" stop-color="#beeaff"/><stop offset="0.20" stop-color="#cfeaff"/><stop offset="0.30" stop-color="#e0e9ff"/><stop offset="0.40" stop-color="#efe8ff"/><stop offset="0.50" stop-color="#fee7ff"/><stop offset="0.60" stop-color="#ffdbf2"/><stop offset="0.70" stop-color="#ffcee5"/><stop offset="0.80" stop-color="#ffc3da"/><stop offset="0.90" stop-color="#ffb9d0"/><stop offset="1.00" stop-color="#ffb0c6"/></linearGradient><linearGradient id="cr65"><stop offset="0.00" stop-color="#aceaff"/><stop offset="0.10" stop-color="#bee9ff"/><stop offset="0.20" stop-color="#cfe8ff"/><stop offset="0.30" stop-color="#e0e8ff"/><stop offset="0.40" stop-color="#efe7ff"/><stop offset="0.50" stop-color="#fee6ff"/><stop offset="0.60" stop-color="#ffdaf2"/><stop offset="0.70" stop-color="#ffcde5"/><stop offset="0.80" stop-color="#ffc3da"/><stop offset="0.90" stop-color="#ffb9d0"/><stop offset="1.00" stop-color="#ffafc6"/></linearGradient><linearGradient id="cr66"><stop offset="0.00" stop-color="#ace9ff"/><stop offset="0.10" stop-color="#bee8ff"/><stop offset="0.20" stop-color="#cfe7ff"/><stop offset="0.30" stop-color="#e0e7ff"/><stop offset="0.40" stop-color="#efe6ff"/><stop offset="0.50" stop-color="#fee5ff"/><stop offset="0.60" stop-color="#ffd9f2"/><stop offset="0.70" stop-color="#ffcde5"/><stop offset="0.80" stop-color="#ffc2da"/><stop offset="0.90" stop-color="#ffb8d0"/><stop offset="1.00" stop-color="#ffafc7"/></linearGradient><linearGradient id="cr67"><stop offset="0.00" stop-color="#ade8ff"/><stop offset="0.10" stop-color="#bfe7ff"/><stop offset="0.20" stop-color="#d0e6ff"/><stop offset="0.30" stop-color="#e0e6ff"/><stop offset="0.40" stop-color="#efe5ff"/><stop offset="0.50" stop-color="#fee4ff"/><stop offset="0.60" stop-color="#ffd8f2"/><stop offset="0.70" stop-color="#ffcce6"/><stop offset="0.80" stop-color="#ffc1da"/><stop offset="0.90" stop-color="#ffb7d0"/><stop offset="1.00" stop-color="#ffaec7"/></linearGradient><linearGradient id="cr68"><stop offset="0.00" stop-color="#ade7ff"/><stop offset="0.10" stop-color="#bfe6ff"/><stop offset="0.20" stop-color="#d0e5ff"/><stop offset="0.30" stop-color="#e0e5ff"/><stop offset="0.40" stop-color="#efe4ff"/><stop offset="0.50" stop-color="#fee3ff"/><stop offset="0.60" stop-color="#ffd7f2"/><stop offset="0.70" stop-color="#ffcbe6"/><stop offset="0.80" stop-color="#ffc0db"/><stop offset="0.90" stop-color="#ffb6d0"/><stop offset="1.00" stop-color="#ffadc7"/></linearGradient><linearGradient id="cr69"><stop offset="0.00" stop-color="#ade6ff"/><stop offset="0.10" stop-color="#bfe5ff"/><stop offset="0.20" stop-color="#d0e4ff"/><stop offset="0.30" stop-color="#e0e3ff"/><stop offset="0.40" stop-color="#efe3ff"/><stop offset="0.50" stop-color="#fee2ff"/><stop offset="0.60" stop-color="#ffd5f2"/><stop offset="0.70" stop-color="#ffcae6"/><stop offset="0.80" stop-color="#ffbfdb"/><stop offset="0.90" stop-color="#ffb5d1"/><stop offset="1.00" stop-color="#ffacc7"/></linearGradient><linearGradient id="cr70"><stop offset="0.00" stop-color="#ade5ff"/><stop offset="0.10" stop-color="#bfe4ff"/><stop offset="0.20" stop-color="#d0e3ff"/><stop offset="0.30" stop-color="#e0e2ff"/><stop offset="0.40" stop-color="#efe2ff"/><stop offset="0.50" stop-color="#fee1ff"/><stop offset="0.60" stop-color="#ffd4f2"/><stop offset="0.70" stop-color="#ffc9e6"/><stop offset="0.80" stop-color="#ffbedb"/><stop offset="0.90" stop-color="#ffb4d1"/><stop offset="1.00" stop-color="#ffabc8"/></linearGradient><linearGradient id="cr71"><stop offset="0.00" stop-color="#aee4ff"/><stop offset="0.10" stop-color="#bfe3ff"/><stop offset="0.20" stop-color="#d0e2ff"/><stop offset="0.30" stop-color="#e0e1ff"/><stop offset="0.40" stop-color="#efe0ff"/><stop offset="0.50" stop-color="#fedfff"/><stop offset="0.60" stop-color="#ffd3f2"/><stop offset="0.70" stop-color="#ffc8e6"/><stop offset="0.80" stop-color="#ffbddb"/><stop offset="0.90" stop-color="#ffb3d1"/><stop offset="1.00" stop-color="#ffaac8"/></linearGradient><linearGradient id="cr72"><stop offset="0.00" stop-color="#aee3ff"/><stop offset="0.10" stop-color="#c0e2ff"/><stop offset="0.20" stop-color="#d0e1ff"/><stop offset="0.30" stop-color="#e0e0ff"/><stop offset="0.40" stop-color="#efdfff"/><stop offset="0.50" stop-color="#fedeff"/><stop offset="0.60" stop-color="#ffd2f3"/><stop offset="0.70" stop-color="#ffc7e6"/><stop offset="0.80" stop-color="#ffbcdb"/><stop offset="0.90" stop-color="#ffb2d1"/><stop offset="1.00" stop-color="#ffa9c8"/></linearGradient><linearGradient id="cr73"><stop offset="0.00" stop-color="#aee2ff"/><stop offset="0.10" stop-color="#c0e1ff"/><stop offset="0.20" stop-color="#d0e0ff"/><stop offset="0.30" stop-color="#e0dfff"/><stop offset="0.40" stop-color="#efdeff"/><stop offset="0.50" stop-color="#feddff"/><stop offset="0.60" stop-color="#ffd1f3"/><stop offset="0.70" stop-color="#ffc6e6"/><stop offset="0.80" stop-color="#ffbbdb"/><stop offset="0.90" stop-color="#ffb1d1"/><stop offset="1.00" stop-color="#ffa8c8"/></linearGradient><linearGradient id="cr74"><stop offset="0.00" stop-color="#aee1ff"/><stop offset="0.10" stop-color="#c0e0ff"/><stop offset="0.20" stop-color="#d0dfff"/><stop offset="0.30" stop-color="#e0deff"/><stop offset="0.40" stop-color="#efddff"/><stop offset="0.50" stop-color="#fedcff"/><stop offset="0.60" stop-color="#ffd0f3"/><stop offset="0.70" stop-color="#ffc5e7"/><stop offset="0.80" stop-color="#ffbadc"/><stop offset="0.90" stop-color="#ffb0d2"/><stop offset="1.00" stop-color="#ffa7c8"/></linearGradient><linearGradient id="cr75"><stop offset="0.00" stop-color="#afe0ff"/><stop offset="0.10" stop-color="#c0dfff"/><stop offset="0.20" stop-color="#d0deff"/><stop offset="0.30" stop-color="#e0ddff"/><stop offset="0.40" stop-color="#efdcff"/><stop offset="0.50" stop-color="#fddbff"/><stop offset="0.60" stop-color="#ffcff3"/><stop offset="0.70" stop-color="#ffc4e7"/><stop offset="0.80" stop-color="#ffb9dc"/><stop offset="0.90" stop-color="#ffb0d2"/><stop offset="1.00" stop-color="#ffa7c9"/></linearGradient><linearGradient id="cr76"><stop offset="0.00" stop-color="#afdfff"/><stop offset="0.10" stop-color="#c0deff"/><stop offset="0.20" stop-color="#d1ddff"/><stop offset="0.30" stop-color="#e0dcff"/><stop offset="0.40" stop-color="#efdbff"/><stop offset="0.50" stop-color="#fddaff"/><stop offset="0.60" stop-color="#ffcef3"/><stop offset="0.70" stop-color="#ffc3e7"/><stop offset="0.80" stop-color="#ffb8dc"/><stop offset="0.90" stop-color="#ffafd2"/><stop offset="1.00" stop-color="#ffa6c9"/></linearGradient><linearGradient id="cr77"><stop offset="0.00" stop-color="#afdeff"/><stop offset="0.10" stop-color="#c0ddff"/><stop offset="0.20" stop-color="#d1dcff"/><stop offset="0.30" stop-color="#e0dbff"/><stop offset="0.40" stop-color="#efdaff"/><stop offset="0.50" stop-color="#fdd9ff"/><stop offset="0.60" stop-color="#ffcdf3"/><stop offset="0.70" stop-color="#ffc2e7"/><stop offset="0.80" stop-color="#ffb7dc"/><stop offset="0.90" stop-color="#ffaed2"/><stop offset="1.00" stop-color="#ffa5c9"/></linearGradient><linearGradient id="cr78"><stop offset="0.00" stop-color="#afddff"/><stop offset="0.10" stop-color="#c1dcff"/><stop offset="0.20" stop-color="#d1dbff"/><stop offset="0.30" stop-color="#e0daff"/><stop offset="0.40" stop-color="#efd9ff"/><stop offset="0.50" stop-color="#fdd8ff"/><stop offset="0.60" stop-color="#ffccf3"/><stop offset="0.70" stop-color="#ffc1e7"/><stop offset="0.80" stop-color="#ffb6dc"/><stop offset="0.90" stop-color="#ffadd2"/><stop offset="1.00" stop-color="#ffa4c9"/></linearGradient><linearGradient id="cr79"><stop offset="0.00" stop-color="#b0dcff"/><stop offset="0.10" stop-color="#c1dbff"/><stop offset="0.20" stop-color="#d1daff"/><stop offset="0.30" stop-color="#e0d9ff"/><stop offset="0.40" stop-color="#efd8ff"/><stop offset="0.50" stop-color="#fdd6ff"/><stop offset="0.60" stop-color="#ffcbf3"/><stop offset="0.70" stop-color="#ffc0e7"/><stop offset="0.80" stop-color="#ffb5dc"/><stop offset="0.90" stop-color="#ffacd3"/><stop offset="1.00" stop-color="#ffa3c9"/></linearGradient><linearGradient id="cr80"><stop offset="0.00" stop-color="#b0dbff"/><stop offset="0.10" stop-color="#c1daff"/><stop offset="0.20" stop-color="#d1d9ff"/><stop offset="0.30" stop-color="#e0d8ff"/><stop offset="0.40" stop-color="#efd7ff"/><stop offset="0.50" stop-color="#fdd5ff"/><stop offset="0.60" stop-color="#ffcaf3"/><stop offset="0.70" stop-color="#ffbfe7"/><stop offset="0.80" stop-color="#ffb5dd"/><stop offset="0.90" stop-color="#ffabd3"/><stop offset="1.00" stop-color="#ffa2ca"/></linearGradient><linearGradient id="cr81"><stop offset="0.00" stop-color="#b0daff"/><stop offset="0.10" stop-color="#c1d9ff"/><stop offset="0.20" stop-color="#d1d8ff"/><stop offset="0.30" stop-color="#e0d7ff"/><stop offset="0.40" stop-color="#efd5ff"/><stop offset="0.50" stop-color="#fdd4ff"/><stop offset="0.60" stop-color="#ffc9f4"/><stop offset="0.70" stop-color="#ffbee8"/><stop offset="0.80" stop-color="#ffb4dd"/><stop offset="0.90" stop-color="#ffaad3"/><stop offset="1.00" stop-color="#ffa1ca"/></linearGradient><linearGradient id="cr82"><stop offset="0.00" stop-color="#b0d9ff"/><stop offset="0.10" stop-color="#c1d8ff"/><stop offset="0.20" stop-color="#d1d7ff"/><stop offset="0.30" stop-color="#e0d6ff"/><stop offset="0.40" stop-color="#efd4ff"/><stop offset="0.50" stop-color="#fdd3ff"/><stop offset="0.60" stop-color="#ffc8f4"/><stop offset="0.70" stop-color="#ffbde8"/><stop offset="0.80" stop-color="#ffb3dd"/><stop offset="0.90" stop-color="#ffa9d3"/><stop offset="1.00" stop-color="#ffa0ca"/></linearGradient><linearGradient id="cr83"><stop offset="0.00" stop-color="#b0d8ff"/><stop offset="0.10" stop-color="#c1d7ff"/><stop offset="0.20" stop-color="#d1d6ff"/><stop offset="0.30" stop-color="#e0d5ff"/><stop offset="0.40" stop-color="#efd3ff"/><stop offset="0.50" stop-color="#fdd2ff"/><stop offset="0.60" stop-color="#ffc7f4"/><stop offset="0.70" stop-color="#ffbce8"/><stop offset="0.80" stop-color="#ffb2dd"/><stop offset="0.90" stop-color="#ffa8d3"/><stop offset="1.00" stop-color="#ff9fca"/></linearGradient><linearGradient id="cr84"><stop offset="0.00" stop-color="#b1d7ff"/><stop offset="0.10" stop-color="#c1d6ff"/><stop offset="0.20" stop-color="#d1d5ff"/><stop offset="0.30" stop-color="#e0d3ff"/><stop offset="0.40" stop-color="#efd2ff"/><stop offset="0.50" stop-color="#fdd1ff"/><stop offset="0.60" stop-color="#ffc6f4"/><stop offset="0.70" stop-color="#ffbbe8"/><stop offset="0.80" stop-color="#ffb1dd"/><stop offset="0.90" stop-color="#ffa7d3"/><stop offset="1.00" stop-color="#ff9eca"/></linearGradient><linearGradient id="cr85"><stop offset="0.00" stop-color="#b1d6ff"/><stop offset="0.10" stop-color="#c2d5ff"/><stop offset="0.20" stop-color="#d1d4ff"/><stop offset="0.30" stop-color="#e0d2ff"/><stop offset="0.40" stop-color="#efd1ff"/><stop offset="0.50" stop-color="#fdd0ff"/><stop offset="0.60" stop-color="#ffc5f4"/><stop offset="0.70" stop-color="#ffbae8"/><stop offset="0.80" stop-color="#ffb0dd"/><stop offset="0.90" stop-color="#ffa6d4"/><stop offset="1.00" stop-color="#ff9ecb"/></linearGradient><linearGradient id="cr86"><stop offset="0.00" stop-color="#b1d5ff"/><stop offset="0.10" stop-color="#c2d4ff"/><stop offset="0.20" stop-color="#d1d3ff"/><stop offset="0.30" stop-color="#e0d1ff"/><stop offset="0.40" stop-color="#efd0ff"/><stop offset="0.50" stop-color="#fdcfff"/><stop offset="0.60" stop-color="#ffc4f4"/><stop offset="0.70" stop-color="#ffb9e8"/><stop offset="0.80" stop-color="#ffafde"/><stop offset="0.90" stop-color="#ffa5d4"/><stop offset="1.00" stop-color="#ff9dcb"/></linearGradient><linearGradient id="cr87"><stop offset="0.00" stop-color="#b1d4ff"/><stop offset="0.10" stop-color="#c2d3ff"/><stop offset="0.20" stop-color="#d2d2ff"/><stop offset="0.30" stop-color="#e0d0ff"/><stop offset="0.40" stop-color="#efcfff"/><stop offset="0.50" stop-color="#fdcdff"/><stop offset="0.60" stop-color="#ffc3f4"/><stop offset="0.70" stop-color="#ffb8e8"/><stop offset="0.80" stop-color="#ffaede"/><stop offset="0.90" stop-color="#ffa4d4"/><stop offset="1.00" stop-color="#ff9ccb"/></linearGradient><linearGradient id="cr88"><stop offset="0.00" stop-color="#b2d3ff"/><stop offset="0.10" stop-color="#c2d2ff"/><stop offset="0.20" stop-color="#d2d1ff"/><stop offset="0.30" stop-color="#e0cfff"/><stop offset="0.40" stop-color="#efceff"/><stop offset="0.50" stop-color="#fdccff"/><stop offset="0.60" stop-color="#ffc2f4"/><stop offset="0.70" stop-color="#ffb7e8"/><stop offset="0.80" stop-color="#ffadde"/><stop offset="0.90" stop-color="#ffa4d4"/><stop offset="1.00" stop-color="#ff9bcb"/></linearGradient></defs><rect x="0" y="0" width="1715" height="885" fill="#333333" />
<rect x="0" y="493" width="1715" height="141" fill="#000000" />
<text transform="translate(21.73 69) scale(0.9664 1)" font-size="40" fill="#eeeeee" stroke="#eeeeee" stroke-width="0.55" >Grayscale</text>
<text transform="translate(126.61 112.8) scale(1.0312 1)" font-size="29.2" fill="#eeeeee" stroke="#eeeeee" stroke-width="0.55" >dE Average: 0,55</text>
<text x="194.97" y="148.5" font-size="15" fill="#e6e6e6" stroke="#e6e6e6" stroke-width="0.2" >DeltaE 2000</text>
<text transform="translate(637.99 57.1) scale(0.9812 1)" font-size="31.2" fill="#eeeeee" stroke="#eeeeee" stroke-width="0.55" >Total Gamma: 2,45</text>
<text transform="translate(718.62 92.6) scale(0.9553 1)" font-size="15" fill="#e6e6e6" stroke="#e6e6e6" stroke-width="0.2" >RGB Balance</text>
<text transform="translate(1272.7 57.2) scale(0.9316 1)" font-size="31.2" fill="#eeeeee" stroke="#eeeeee" stroke-width="0.55" >CCT Avg: 6483</text>
<text transform="translate(1309.14 92.9) scale(1.0126 1)" font-size="15" fill="#e6e6e6" stroke="#e6e6e6" stroke-width="0.2" >Gamma Log/Log</text>
<rect x="43" y="154" width="411" height="286" fill="#222222" />
<rect x="98" y="154" width="1" height="286" fill="#8a8a8a" />
<rect x="153" y="154" width="1" height="286" fill="#8a8a8a" />
<rect x="207" y="154" width="1" height="286" fill="#8a8a8a" />
<rect x="262" y="154" width="1" height="286" fill="#8a8a8a" />
<rect x="317" y="154" width="1" height="286" fill="#8a8a8a" />
<rect x="372" y="154" width="1" height="286" fill="#8a8a8a" />
<rect x="427" y="154" width="1" height="286" fill="#8a8a8a" />
<rect x="70" y="155" width="1.3" height="285" fill="#009a00" />
<rect x="125" y="155" width="1.3" height="285" fill="#ffff00" />
<rect x="317" y="155" width="1.4" height="285" fill="#ff1010" />
<text transform="translate(17.44 174.1) scale(0.9496 1)" font-size="16" fill="#e6e6e6" stroke="#e6e6e6" stroke-width="0.2" >100</text>
<rect x="44" y="156.8" width="24.93" height="21" fill="#000000" />
<rect x="44" y="157.8" width="23.23" height="18.2" fill="url(#bar10)" />
<text x="25.03" y="200" font-size="16" fill="#e6e6e6" stroke="#e6e6e6" stroke-width="0.2" >90</text>
<rect x="44" y="182.68" width="9.86" height="21" fill="#000000" />
<rect x="44" y="183.68" width="8.16" height="18.2" fill="url(#bar9)" />
<text x="25.03" y="225.9" font-size="16" fill="#e6e6e6" stroke="#e6e6e6" stroke-width="0.2" >80</text>
<rect x="44" y="208.56" width="8.22" height="21" fill="#000000" />
<rect x="44" y="209.56" width="6.52" height="18.2" fill="url(#bar8)" />
<text x="25.03" y="251.8" font-size="16" fill="#e6e6e6" stroke="#e6e6e6" stroke-width="0.2" >70</text>
<rect x="44" y="234.44" width="9.86" height="21" fill="#000000" />
<rect x="44" y="235.44" width="8.16" height="18.2" fill="url(#bar7)" />
<text x="25.03" y="277.7" font-size="16" fill="#e6e6e6" stroke="#e6e6e6" stroke-width="0.2" >60</text>
<rect x="44" y="260.32" width="15.07" height="21" fill="#000000" />
<rect x="44" y="261.32" width="13.37" height="18.2" fill="url(#bar6)" />
<text x="25.03" y="303.6" font-size="16" fill="#e6e6e6" stroke="#e6e6e6" stroke-width="0.2" >50</text>
<rect x="44" y="286.2" width="12.06" height="21" fill="#000000" />
<rect x="44" y="287.2" width="10.36" height="18.2" fill="url(#bar5)" />
<text x="25.03" y="329.5" font-size="16" fill="#e6e6e6" stroke="#e6e6e6" stroke-width="0.2" >40</text>
<rect x="44" y="312.08" width="15.07" height="21" fill="#000000" />
<rect x="44" y="313.08" width="13.37" height="18.2" fill="url(#bar4)" />
<text x="25.03" y="355.4" font-size="16" fill="#e6e6e6" stroke="#e6e6e6" stroke-width="0.2" >30</text>
<rect x="44" y="337.96" width="21.92" height="21" fill="#000000" />
<rect x="44" y="338.96" width="20.22" height="18.2" fill="url(#bar3)" />
<text x="25.03" y="381.3" font-size="16" fill="#e6e6e6" stroke="#e6e6e6" stroke-width="0.2" >20</text>
<rect x="44" y="363.84" width="12.6" height="21" fill="#000000" />
<rect x="44" y="364.84" width="10.9" height="18.2" fill="url(#bar2)" />
<text x="25.03" y="407.2" font-size="16" fill="#e6e6e6" stroke="#e6e6e6" stroke-width="0.2" >10</text>
<rect x="44" y="389.72" width="21.65" height="21" fill="#000000" />
<rect x="44" y="390.72" width="19.95" height="18.2" fill="url(#bar1)" />
<text x="33.93" y="433.1" font-size="16" fill="#e6e6e6" stroke="#e6e6e6" stroke-width="0.2" >0</text>
<rect x="44" y="415.6" width="22.74" height="21" fill="#000000" />
<rect x="44" y="416.6" width="21.04" height="18.2" fill="url(#bar0)" />
<rect x="43" y="154" width="412" height="1" fill="#9a9a9a" />
<rect x="43" y="440" width="412" height="1" fill="#9a9a9a" />
<rect x="43" y="154" width="1" height="287" fill="#9a9a9a" />
<rect x="454" y="154" width="1" height="287" fill="#9a9a9a" />
<rect x="37" y="154" width="6" height="1" fill="#dcdcdc" />
<rect x="37" y="180" width="6" height="2" fill="#dcdcdc" />
<rect x="37" y="206" width="6" height="2" fill="#dcdcdc" />
<rect x="37" y="232" width="6" height="2" fill="#dcdcdc" />
<rect x="37" y="258" width="6" height="2" fill="#dcdcdc" />
<rect x="37" y="284" width="6" height="2" fill="#dcdcdc" />
<rect x="37" y="309" width="6" height="2" fill="#dcdcdc" />
<rect x="37" y="335" width="6" height="2" fill="#dcdcdc" />
<rect x="37" y="361" width="6" height="2" fill="#dcdcdc" />
<rect x="37" y="387" width="6" height="2" fill="#dcdcdc" />
<rect x="37" y="413" width="6" height="2" fill="#dcdcdc" />
<rect x="37" y="439" width="6" height="2" fill="#dcdcdc" />
<rect x="43" y="441" width="2" height="5" fill="#dcdcdc" />
<text x="39.55" y="462" font-size="16" fill="#e6e6e6" stroke="#e6e6e6" stroke-width="0.2" >0</text>
<rect x="98" y="441" width="2" height="5" fill="#dcdcdc" />
<text x="94.55" y="462" font-size="16" fill="#e6e6e6" stroke="#e6e6e6" stroke-width="0.2" >2</text>
<rect x="153" y="441" width="2" height="5" fill="#dcdcdc" />
<text x="149.6" y="462" font-size="16" fill="#e6e6e6" stroke="#e6e6e6" stroke-width="0.2" >4</text>
<rect x="207" y="441" width="2" height="5" fill="#dcdcdc" />
<text x="203.5" y="462" font-size="16" fill="#e6e6e6" stroke="#e6e6e6" stroke-width="0.2" >6</text>
<rect x="262" y="441" width="2" height="5" fill="#dcdcdc" />
<text x="258.55" y="462" font-size="16" fill="#e6e6e6" stroke="#e6e6e6" stroke-width="0.2" >8</text>
<rect x="317" y="441" width="2" height="5" fill="#dcdcdc" />
<text x="308.8" y="462" font-size="16" fill="#e6e6e6" stroke="#e6e6e6" stroke-width="0.2" >10</text>
<rect x="372" y="441" width="2" height="5" fill="#dcdcdc" />
<text x="363.89" y="462" font-size="16" fill="#e6e6e6" stroke="#e6e6e6" stroke-width="0.2" >12</text>
<rect x="427" y="441" width="2" height="5" fill="#dcdcdc" />
<text x="418.73" y="462" font-size="16" fill="#e6e6e6" stroke="#e6e6e6" stroke-width="0.2" >14</text>
<rect x="508" y="98" width="535" height="342" fill="#222222" />
<rect x="508" y="133" width="535" height="1" fill="#8a8a8a" />
<rect x="503" y="132" width="5" height="2" fill="#dcdcdc" />
<text x="485.73" y="139" font-size="16" fill="#e6e6e6" stroke="#e6e6e6" stroke-width="0.2" >40</text>
<rect x="508" y="202" width="535" height="1" fill="#8a8a8a" />
<rect x="503" y="201" width="5" height="2" fill="#dcdcdc" />
<text x="485.73" y="208" font-size="16" fill="#e6e6e6" stroke="#e6e6e6" stroke-width="0.2" >20</text>
<rect x="508" y="271" width="535" height="1" fill="#8a8a8a" />
<rect x="503" y="270" width="5" height="2" fill="#dcdcdc" />
<text x="494.63" y="277" font-size="16" fill="#e6e6e6" stroke="#e6e6e6" stroke-width="0.2" >0</text>
<rect x="508" y="338" width="535" height="1" fill="#8a8a8a" />
<rect x="503" y="337" width="5" height="2" fill="#dcdcdc" />
<text x="480.4" y="344" font-size="16" fill="#e6e6e6" stroke="#e6e6e6" stroke-width="0.2" >-20</text>
<rect x="508" y="407" width="535" height="1" fill="#8a8a8a" />
<rect x="503" y="406" width="5" height="2" fill="#dcdcdc" />
<text x="480.4" y="413" font-size="16" fill="#e6e6e6" stroke="#e6e6e6" stroke-width="0.2" >-40</text>
<rect x="508" y="98" width="536" height="1" fill="#9a9a9a" />
<rect x="508" y="440" width="536" height="1" fill="#9a9a9a" />
<rect x="508" y="98" width="1" height="343" fill="#9a9a9a" />
<rect x="1043" y="98" width="1" height="343" fill="#9a9a9a" />
<rect x="508" y="441" width="2" height="5" fill="#dcdcdc" />
<text x="504.55" y="462" font-size="16" fill="#e6e6e6" stroke="#e6e6e6" stroke-width="0.2" >0</text>
<rect x="562" y="441" width="2" height="5" fill="#dcdcdc" />
<text x="553.8" y="462" font-size="16" fill="#e6e6e6" stroke="#e6e6e6" stroke-width="0.2" >10</text>
<rect x="615" y="441" width="2" height="5" fill="#dcdcdc" />
<text x="607.01" y="462" font-size="16" fill="#e6e6e6" stroke="#e6e6e6" stroke-width="0.2" >20</text>
<rect x="669" y="441" width="2" height="5" fill="#dcdcdc" />
<text x="661.11" y="462" font-size="16" fill="#e6e6e6" stroke="#e6e6e6" stroke-width="0.2" >30</text>
<rect x="722" y="441" width="2" height="5" fill="#dcdcdc" />
<text x="714.23" y="462" font-size="16" fill="#e6e6e6" stroke="#e6e6e6" stroke-width="0.2" >40</text>
<rect x="776" y="441" width="2" height="5" fill="#dcdcdc" />
<text x="768.09" y="462" font-size="16" fill="#e6e6e6" stroke="#e6e6e6" stroke-width="0.2" >50</text>
<rect x="829" y="441" width="2" height="5" fill="#dcdcdc" />
<text x="821.01" y="462" font-size="16" fill="#e6e6e6" stroke="#e6e6e6" stroke-width="0.2" >60</text>
<rect x="883" y="441" width="2" height="5" fill="#dcdcdc" />
<text x="875" y="462" font-size="16" fill="#e6e6e6" stroke="#e6e6e6" stroke-width="0.2" >70</text>
<rect x="936" y="441" width="2" height="5" fill="#dcdcdc" />
<text x="928.07" y="462" font-size="16" fill="#e6e6e6" stroke="#e6e6e6" stroke-width="0.2" >80</text>
<rect x="990" y="441" width="2" height="5" fill="#dcdcdc" />
<text x="982.04" y="462" font-size="16" fill="#e6e6e6" stroke="#e6e6e6" stroke-width="0.2" >90</text>
<rect x="1043" y="441" width="2" height="5" fill="#dcdcdc" />
<text x="1030.36" y="462" font-size="16" fill="#e6e6e6" stroke="#e6e6e6" stroke-width="0.2" >100</text>
<polyline points="508.5,259.8 562,270.98 615.5,271.84 669,275.63 722.5,274.25 776,274.6 829.5,276.49 883,271.16 936.5,271.84 990,275.11 1043.5,274.25" fill="none" stroke="#ff0000" stroke-width="3" stroke-linejoin="round" />
<polyline points="508.5,262.04 562,275.63 615.5,272.88 669,277.35 722.5,270.81 776,273.05 829.5,273.22 883,273.05 936.5,273.05 990,272.53 1043.5,268.4" fill="none" stroke="#00a000" stroke-width="3" stroke-linejoin="round" />
<polyline points="508.5,258.26 562,274.25 615.5,275.63 669,280.27 722.5,272.7 776,273.74 829.5,273.91 883,273.39 936.5,273.39 990,272.94 1043.5,266.68" fill="none" stroke="#0000ff" stroke-width="3.4" stroke-linejoin="round" />
<rect x="1110" y="98" width="536" height="342" fill="#222222" />
<rect x="1110" y="137" width="536" height="1" fill="#8a8a8a" />
<rect x="1105" y="136" width="5" height="2" fill="#dcdcdc" />
<text x="1083.13" y="143" font-size="16" fill="#e6e6e6" stroke="#e6e6e6" stroke-width="0.2" >2,4</text>
<rect x="1110" y="179" width="536" height="1" fill="#8a8a8a" />
<rect x="1105" y="178" width="5" height="2" fill="#dcdcdc" />
<text x="1083.46" y="185" font-size="16" fill="#e6e6e6" stroke="#e6e6e6" stroke-width="0.2" >2,2</text>
<rect x="1110" y="223" width="536" height="1" fill="#8a8a8a" />
<rect x="1105" y="222" width="5" height="2" fill="#dcdcdc" />
<text x="1096.81" y="229" font-size="16" fill="#e6e6e6" stroke="#e6e6e6" stroke-width="0.2" >2</text>
<rect x="1110" y="265" width="536" height="1" fill="#8a8a8a" />
<rect x="1105" y="264" width="5" height="2" fill="#dcdcdc" />
<text x="1083.35" y="271" font-size="16" fill="#e6e6e6" stroke="#e6e6e6" stroke-width="0.2" >1,8</text>
<rect x="1110" y="308" width="536" height="1" fill="#8a8a8a" />
<rect x="1105" y="307" width="5" height="2" fill="#dcdcdc" />
<text x="1083.36" y="314" font-size="16" fill="#e6e6e6" stroke="#e6e6e6" stroke-width="0.2" >1,6</text>
<rect x="1110" y="350" width="536" height="1" fill="#8a8a8a" />
<rect x="1105" y="349" width="5" height="2" fill="#dcdcdc" />
<text x="1083.13" y="356" font-size="16" fill="#e6e6e6" stroke="#e6e6e6" stroke-width="0.2" >1,4</text>
<rect x="1110" y="393" width="536" height="1" fill="#8a8a8a" />
<rect x="1105" y="392" width="5" height="2" fill="#dcdcdc" />
<text x="1083.46" y="399" font-size="16" fill="#e6e6e6" stroke="#e6e6e6" stroke-width="0.2" >1,2</text>
<rect x="1110" y="436" width="536" height="1" fill="#8a8a8a" />
<rect x="1105" y="435" width="5" height="2" fill="#dcdcdc" />
<text x="1096.78" y="442" font-size="16" fill="#e6e6e6" stroke="#e6e6e6" stroke-width="0.2" >1</text>
<rect x="1110" y="98" width="537" height="1" fill="#9a9a9a" />
<rect x="1110" y="440" width="537" height="1" fill="#9a9a9a" />
<rect x="1110" y="98" width="1" height="343" fill="#9a9a9a" />
<rect x="1646" y="98" width="1" height="343" fill="#9a9a9a" />
<rect x="1110" y="441" width="2" height="5" fill="#dcdcdc" />
<text x="1106.55" y="462" font-size="16" fill="#e6e6e6" stroke="#e6e6e6" stroke-width="0.2" >0</text>
<rect x="1164" y="441" width="2" height="5" fill="#dcdcdc" />
<text x="1155.8" y="462" font-size="16" fill="#e6e6e6" stroke="#e6e6e6" stroke-width="0.2" >10</text>
<rect x="1217" y="441" width="2" height="5" fill="#dcdcdc" />
<text x="1209.01" y="462" font-size="16" fill="#e6e6e6" stroke="#e6e6e6" stroke-width="0.2" >20</text>
<rect x="1271" y="441" width="2" height="5" fill="#dcdcdc" />
<text x="1263.11" y="462" font-size="16" fill="#e6e6e6" stroke="#e6e6e6" stroke-width="0.2" >30</text>
<rect x="1324" y="441" width="2" height="5" fill="#dcdcdc" />
<text x="1316.23" y="462" font-size="16" fill="#e6e6e6" stroke="#e6e6e6" stroke-width="0.2" >40</text>
<rect x="1378" y="441" width="2" height="5" fill="#dcdcdc" />
<text x="1370.09" y="462" font-size="16" fill="#e6e6e6" stroke="#e6e6e6" stroke-width="0.2" >50</text>
<rect x="1431" y="441" width="2" height="5" fill="#dcdcdc" />
<text x="1423.01" y="462" font-size="16" fill="#e6e6e6" stroke="#e6e6e6" stroke-width="0.2" >60</text>
<rect x="1485" y="441" width="2" height="5" fill="#dcdcdc" />
<text x="1477" y="462" font-size="16" fill="#e6e6e6" stroke="#e6e6e6" stroke-width="0.2" >70</text>
<rect x="1538" y="441" width="2" height="5" fill="#dcdcdc" />
<text x="1530.07" y="462" font-size="16" fill="#e6e6e6" stroke="#e6e6e6" stroke-width="0.2" >80</text>
<rect x="1592" y="441" width="2" height="5" fill="#dcdcdc" />
<text x="1584.04" y="462" font-size="16" fill="#e6e6e6" stroke="#e6e6e6" stroke-width="0.2" >90</text>
<rect x="1645" y="441" width="2" height="5" fill="#dcdcdc" />
<text x="1632.36" y="462" font-size="16" fill="#e6e6e6" stroke="#e6e6e6" stroke-width="0.2" >100</text>
<polyline points="1110.5,376.7 1164,214.39 1217.5,190.89 1271,173.81 1324.5,173.81 1378,167.4 1431.5,160.99 1485,158.86 1538.5,152.45 1592,133.23 1645.5,163.13" fill="none" stroke="#8c8c8c" stroke-width="3" stroke-linejoin="round" />
<path d="M 1109.8 374.5 L 1111.9 353.3 L 1113.6 329.5 L 1115.3 311.5" fill="none" stroke="#ffff00" stroke-width="3" stroke-linejoin="round"/>
<path d="M 1115.3 311.5 C 1115.85 309.98 1117.57 305.6 1118.6 302.4 C 1119.63 299.2 1119.93 297.33 1121.5 292.3 C 1123.07 287.27 1125.78 278.27 1128 272.2 C 1130.22 266.13 1131.63 261.9 1134.8 255.9 C 1137.97 249.9 1142.48 241.85 1147 236.2 C 1151.52 230.55 1155.57 226.85 1161.9 222 C 1168.23 217.15 1175.28 211.73 1185 207.1 C 1194.72 202.47 1208.68 197.7 1220.2 194.2 C 1231.72 190.7 1243.3 188.13 1254.1 186.1 C 1264.9 184.07 1272.18 183.43 1285 182 C 1297.82 180.57 1315.17 178.97 1331 177.5 C 1346.83 176.03 1360.17 174.53 1380 173.2 C 1399.83 171.87 1423.33 170.75 1450 169.5 C 1476.67 168.25 1507.5 166.95 1540 165.7 C 1572.5 164.45 1627.5 162.62 1645 162" fill="none" stroke="#ffff00" stroke-width="3" stroke-linejoin="round"/>
<rect x="250" y="514" width="1319" height="1" fill="#161616" />
<rect x="272" y="519" width="102" height="38" fill="#f4f4f4" />
<rect x="273" y="520" width="100" height="36" fill="rgb(18,18,18)" />
<rect x="274" y="521" width="98" height="34" fill="#040404" />
<rect x="272" y="567" width="102" height="37" fill="#f4f4f4" />
<rect x="273" y="568" width="100" height="35" fill="rgb(15,15,15)" />
<rect x="274" y="569" width="98" height="33" fill="#000000" />
<text x="319.39" y="618" font-size="13" fill="#f0f0f0" stroke="#f0f0f0" stroke-width="0.3" >0</text>
<rect x="390" y="519" width="102" height="38" fill="#f4f4f4" />
<rect x="391" y="520" width="100" height="36" fill="rgb(34,34,34)" />
<rect x="392" y="521" width="98" height="34" fill="#1b1b1b" />
<rect x="390" y="567" width="102" height="37" fill="#f4f4f4" />
<rect x="391" y="568" width="100" height="35" fill="rgb(35,35,35)" />
<rect x="392" y="569" width="98" height="33" fill="#1c1c1c" />
<text x="433.53" y="618" font-size="13" fill="#f0f0f0" stroke="#f0f0f0" stroke-width="0.3" >10</text>
<rect x="509" y="519" width="102" height="38" fill="#f4f4f4" />
<rect x="510" y="520" width="100" height="36" fill="rgb(54,54,54)" />
<rect x="511" y="521" width="98" height="34" fill="#363636" />
<rect x="509" y="567" width="102" height="37" fill="#f4f4f4" />
<rect x="510" y="568" width="100" height="35" fill="rgb(54,54,54)" />
<rect x="511" y="569" width="98" height="33" fill="#363636" />
<text x="552.7" y="618" font-size="13" fill="#f0f0f0" stroke="#f0f0f0" stroke-width="0.3" >20</text>
<rect x="627" y="519" width="102" height="38" fill="#f4f4f4" />
<rect x="628" y="520" width="100" height="36" fill="rgb(69,69,69)" />
<rect x="629" y="521" width="98" height="34" fill="#4b4b4b" />
<rect x="627" y="567" width="102" height="37" fill="#f4f4f4" />
<rect x="628" y="568" width="100" height="35" fill="rgb(70,70,70)" />
<rect x="629" y="569" width="98" height="33" fill="#4d4d4d" />
<text x="670.78" y="618" font-size="13" fill="#f0f0f0" stroke="#f0f0f0" stroke-width="0.3" >30</text>
<rect x="746" y="519" width="102" height="38" fill="#f4f4f4" />
<rect x="747" y="520" width="100" height="36" fill="rgb(88,88,88)" />
<rect x="748" y="521" width="98" height="34" fill="#666666" />
<rect x="746" y="567" width="102" height="37" fill="#f4f4f4" />
<rect x="747" y="568" width="100" height="35" fill="rgb(88,88,88)" />
<rect x="748" y="569" width="98" height="33" fill="#666666" />
<text x="789.87" y="618" font-size="13" fill="#f0f0f0" stroke="#f0f0f0" stroke-width="0.3" >40</text>
<rect x="865" y="519" width="102" height="38" fill="#f4f4f4" />
<rect x="866" y="520" width="100" height="36" fill="rgb(107,107,107)" />
<rect x="867" y="521" width="98" height="34" fill="#808080" />
<rect x="865" y="567" width="102" height="37" fill="#f4f4f4" />
<rect x="866" y="568" width="100" height="35" fill="rgb(107,107,107)" />
<rect x="867" y="569" width="98" height="33" fill="#808080" />
<text x="908.76" y="618" font-size="13" fill="#f0f0f0" stroke="#f0f0f0" stroke-width="0.3" >50</text>
<rect x="983" y="519" width="102" height="38" fill="#f4f4f4" />
<rect x="984" y="520" width="100" height="36" fill="rgb(126,126,126)" />
<rect x="985" y="521" width="98" height="34" fill="#9a9c9a" />
<rect x="983" y="567" width="102" height="37" fill="#f4f4f4" />
<rect x="984" y="568" width="100" height="35" fill="rgb(129,129,129)" />
<rect x="985" y="569" width="98" height="33" fill="#9e9e9e" />
<text x="1026.69" y="618" font-size="13" fill="#f0f0f0" stroke="#f0f0f0" stroke-width="0.3" >60</text>
<rect x="1102" y="519" width="102" height="38" fill="#f4f4f4" />
<rect x="1103" y="520" width="100" height="36" fill="rgb(144,144,144)" />
<rect x="1104" y="521" width="98" height="34" fill="#b3b3b3" />
<rect x="1102" y="567" width="102" height="37" fill="#f4f4f4" />
<rect x="1103" y="568" width="100" height="35" fill="rgb(144,144,144)" />
<rect x="1104" y="569" width="98" height="33" fill="#b3b3b3" />
<text x="1145.69" y="618" font-size="13" fill="#f0f0f0" stroke="#f0f0f0" stroke-width="0.3" >70</text>
<rect x="1220" y="519" width="102" height="38" fill="#f4f4f4" />
<rect x="1221" y="520" width="100" height="36" fill="rgb(162,162,162)" />
<rect x="1222" y="521" width="98" height="34" fill="#cccccc" />
<rect x="1220" y="567" width="102" height="37" fill="#f4f4f4" />
<rect x="1221" y="568" width="100" height="35" fill="rgb(162,162,162)" />
<rect x="1222" y="569" width="98" height="33" fill="#cccccc" />
<text x="1263.74" y="618" font-size="13" fill="#f0f0f0" stroke="#f0f0f0" stroke-width="0.3" >80</text>
<rect x="1339" y="519" width="102" height="38" fill="#f4f4f4" />
<rect x="1340" y="520" width="100" height="36" fill="rgb(181,181,181)" />
<rect x="1341" y="521" width="98" height="34" fill="#e6e6e6" />
<rect x="1339" y="567" width="102" height="37" fill="#f4f4f4" />
<rect x="1340" y="568" width="100" height="35" fill="rgb(181,181,181)" />
<rect x="1341" y="569" width="98" height="33" fill="#e6e6e6" />
<text x="1382.72" y="618" font-size="13" fill="#f0f0f0" stroke="#f0f0f0" stroke-width="0.3" >90</text>
<rect x="1457" y="519" width="102" height="38" fill="#f4f4f4" />
<rect x="1458" y="520" width="100" height="36" fill="rgb(199,199,199)" />
<rect x="1459" y="521" width="98" height="34" fill="#ffffff" />
<rect x="1457" y="567" width="102" height="37" fill="#f4f4f4" />
<rect x="1458" y="568" width="100" height="35" fill="rgb(199,199,199)" />
<rect x="1459" y="569" width="98" height="33" fill="#ffffff" />
<text x="1496.91" y="618" font-size="13" fill="#f0f0f0" stroke="#f0f0f0" stroke-width="0.3" >100</text>
<text transform="translate(263 538) rotate(-90)" font-size="13" fill="#f0f0f0" text-anchor="middle">Actual</text>
<text transform="translate(263 585) rotate(-90)" font-size="13" fill="#f0f0f0" text-anchor="middle">Target</text>
<text transform="translate(11.6 674.1) scale(1.0526 1)" font-size="29.5" fill="#eeeeee" stroke="#eeeeee" stroke-width="0.55" >Current Reading</text>
<text transform="translate(12.49 716.7) scale(1.0503 1)" font-size="24.5" fill="#eeeeee" stroke="#eeeeee" stroke-width="0.55" >x: 0,3113</text>
<text transform="translate(12.71 758.2) scale(1.0601 1)" font-size="24.5" fill="#eeeeee" stroke="#eeeeee" stroke-width="0.55" >y: 0,3286</text>
<text transform="translate(12.41 800) scale(1.0466 1)" font-size="24.5" fill="#eeeeee" stroke="#eeeeee" stroke-width="0.55" >fL: 77,424</text>
<text transform="translate(11.63 842.7) scale(1.0995 1)" font-size="24.5" fill="#eeeeee" stroke="#eeeeee" stroke-width="0.55" >cd/m²: 265,274</text>
<rect x="334.5" y="641" width="302" height="221" fill="#ffff00" />
<rect x="341.8" y="648" width="287.2" height="209.4" fill="#333333" />
<rect x="380.5" y="651" width="245.5" height="2" fill="url(#cr0)" shape-rendering="crispEdges"/>
<rect x="380.5" y="653" width="245.5" height="2" fill="url(#cr1)" shape-rendering="crispEdges"/>
<rect x="380.5" y="655" width="245.5" height="2" fill="url(#cr2)" shape-rendering="crispEdges"/>
<rect x="380.5" y="657" width="245.5" height="2" fill="url(#cr3)" shape-rendering="crispEdges"/>
<rect x="380.5" y="659" width="245.5" height="2" fill="url(#cr4)" shape-rendering="crispEdges"/>
<rect x="380.5" y="661" width="245.5" height="2" fill="url(#cr5)" shape-rendering="crispEdges"/>
<rect x="380.5" y="663" width="245.5" height="2" fill="url(#cr6)" shape-rendering="crispEdges"/>
<rect x="380.5" y="665" width="245.5" height="2" fill="url(#cr7)" shape-rendering="crispEdges"/>
<rect x="380.5" y="667" width="245.5" height="2" fill="url(#cr8)" shape-rendering="crispEdges"/>
<rect x="380.5" y="669" width="245.5" height="2" fill="url(#cr9)" shape-rendering="crispEdges"/>
<rect x="380.5" y="671" width="245.5" height="2" fill="url(#cr10)" shape-rendering="crispEdges"/>
<rect x="380.5" y="673" width="245.5" height="2" fill="url(#cr11)" shape-rendering="crispEdges"/>
<rect x="380.5" y="675" width="245.5" height="2" fill="url(#cr12)" shape-rendering="crispEdges"/>
<rect x="380.5" y="677" width="245.5" height="2" fill="url(#cr13)" shape-rendering="crispEdges"/>
<rect x="380.5" y="679" width="245.5" height="2" fill="url(#cr14)" shape-rendering="crispEdges"/>
<rect x="380.5" y="681" width="245.5" height="2" fill="url(#cr15)" shape-rendering="crispEdges"/>
<rect x="380.5" y="683" width="245.5" height="2" fill="url(#cr16)" shape-rendering="crispEdges"/>
<rect x="380.5" y="685" width="245.5" height="2" fill="url(#cr17)" shape-rendering="crispEdges"/>
<rect x="380.5" y="687" width="245.5" height="2" fill="url(#cr18)" shape-rendering="crispEdges"/>
<rect x="380.5" y="689" width="245.5" height="2" fill="url(#cr19)" shape-rendering="crispEdges"/>
<rect x="380.5" y="691" width="245.5" height="2" fill="url(#cr20)" shape-rendering="crispEdges"/>
<rect x="380.5" y="693" width="245.5" height="2" fill="url(#cr21)" shape-rendering="crispEdges"/>
<rect x="380.5" y="695" width="245.5" height="2" fill="url(#cr22)" shape-rendering="crispEdges"/>
<rect x="380.5" y="697" width="245.5" height="2" fill="url(#cr23)" shape-rendering="crispEdges"/>
<rect x="380.5" y="699" width="245.5" height="2" fill="url(#cr24)" shape-rendering="crispEdges"/>
<rect x="380.5" y="701" width="245.5" height="2" fill="url(#cr25)" shape-rendering="crispEdges"/>
<rect x="380.5" y="703" width="245.5" height="2" fill="url(#cr26)" shape-rendering="crispEdges"/>
<rect x="380.5" y="705" width="245.5" height="2" fill="url(#cr27)" shape-rendering="crispEdges"/>
<rect x="380.5" y="707" width="245.5" height="2" fill="url(#cr28)" shape-rendering="crispEdges"/>
<rect x="380.5" y="709" width="245.5" height="2" fill="url(#cr29)" shape-rendering="crispEdges"/>
<rect x="380.5" y="711" width="245.5" height="2" fill="url(#cr30)" shape-rendering="crispEdges"/>
<rect x="380.5" y="713" width="245.5" height="2" fill="url(#cr31)" shape-rendering="crispEdges"/>
<rect x="380.5" y="715" width="245.5" height="2" fill="url(#cr32)" shape-rendering="crispEdges"/>
<rect x="380.5" y="717" width="245.5" height="2" fill="url(#cr33)" shape-rendering="crispEdges"/>
<rect x="380.5" y="719" width="245.5" height="2" fill="url(#cr34)" shape-rendering="crispEdges"/>
<rect x="380.5" y="721" width="245.5" height="2" fill="url(#cr35)" shape-rendering="crispEdges"/>
<rect x="380.5" y="723" width="245.5" height="2" fill="url(#cr36)" shape-rendering="crispEdges"/>
<rect x="380.5" y="725" width="245.5" height="2" fill="url(#cr37)" shape-rendering="crispEdges"/>
<rect x="380.5" y="727" width="245.5" height="2" fill="url(#cr38)" shape-rendering="crispEdges"/>
<rect x="380.5" y="729" width="245.5" height="2" fill="url(#cr39)" shape-rendering="crispEdges"/>
<rect x="380.5" y="731" width="245.5" height="2" fill="url(#cr40)" shape-rendering="crispEdges"/>
<rect x="380.5" y="733" width="245.5" height="2" fill="url(#cr41)" shape-rendering="crispEdges"/>
<rect x="380.5" y="735" width="245.5" height="2" fill="url(#cr42)" shape-rendering="crispEdges"/>
<rect x="380.5" y="737" width="245.5" height="2" fill="url(#cr43)" shape-rendering="crispEdges"/>
<rect x="380.5" y="739" width="245.5" height="2" fill="url(#cr44)" shape-rendering="crispEdges"/>
<rect x="380.5" y="741" width="245.5" height="2" fill="url(#cr45)" shape-rendering="crispEdges"/>
<rect x="380.5" y="743" width="245.5" height="2" fill="url(#cr46)" shape-rendering="crispEdges"/>
<rect x="380.5" y="745" width="245.5" height="2" fill="url(#cr47)" shape-rendering="crispEdges"/>
<rect x="380.5" y="747" width="245.5" height="2" fill="url(#cr48)" shape-rendering="crispEdges"/>
<rect x="380.5" y="749" width="245.5" height="2" fill="url(#cr49)" shape-rendering="crispEdges"/>
<rect x="380.5" y="751" width="245.5" height="2" fill="url(#cr50)" shape-rendering="crispEdges"/>
<rect x="380.5" y="753" width="245.5" height="2" fill="url(#cr51)" shape-rendering="crispEdges"/>
<rect x="380.5" y="755" width="245.5" height="2" fill="url(#cr52)" shape-rendering="crispEdges"/>
<rect x="380.5" y="757" width="245.5" height="2" fill="url(#cr53)" shape-rendering="crispEdges"/>
<rect x="380.5" y="759" width="245.5" height="2" fill="url(#cr54)" shape-rendering="crispEdges"/>
<rect x="380.5" y="761" width="245.5" height="2" fill="url(#cr55)" shape-rendering="crispEdges"/>
<rect x="380.5" y="763" width="245.5" height="2" fill="url(#cr56)" shape-rendering="crispEdges"/>
<rect x="380.5" y="765" width="245.5" height="2" fill="url(#cr57)" shape-rendering="crispEdges"/>
<rect x="380.5" y="767" width="245.5" height="2" fill="url(#cr58)" shape-rendering="crispEdges"/>
<rect x="380.5" y="769" width="245.5" height="2" fill="url(#cr59)" shape-rendering="crispEdges"/>
<rect x="380.5" y="771" width="245.5" height="2" fill="url(#cr60)" shape-rendering="crispEdges"/>
<rect x="380.5" y="773" width="245.5" height="2" fill="url(#cr61)" shape-rendering="crispEdges"/>
<rect x="380.5" y="775" width="245.5" height="2" fill="url(#cr62)" shape-rendering="crispEdges"/>
<rect x="380.5" y="777" width="245.5" height="2" fill="url(#cr63)" shape-rendering="crispEdges"/>
<rect x="380.5" y="779" width="245.5" height="2" fill="url(#cr64)" shape-rendering="crispEdges"/>
<rect x="380.5" y="781" width="245.5" height="2" fill="url(#cr65)" shape-rendering="crispEdges"/>
<rect x="380.5" y="783" width="245.5" height="2" fill="url(#cr66)" shape-rendering="crispEdges"/>
<rect x="380.5" y="785" width="245.5" height="2" fill="url(#cr67)" shape-rendering="crispEdges"/>
<rect x="380.5" y="787" width="245.5" height="2" fill="url(#cr68)" shape-rendering="crispEdges"/>
<rect x="380.5" y="789" width="245.5" height="2" fill="url(#cr69)" shape-rendering="crispEdges"/>
<rect x="380.5" y="791" width="245.5" height="2" fill="url(#cr70)" shape-rendering="crispEdges"/>
<rect x="380.5" y="793" width="245.5" height="2" fill="url(#cr71)" shape-rendering="crispEdges"/>
<rect x="380.5" y="795" width="245.5" height="2" fill="url(#cr72)" shape-rendering="crispEdges"/>
<rect x="380.5" y="797" width="245.5" height="2" fill="url(#cr73)" shape-rendering="crispEdges"/>
<rect x="380.5" y="799" width="245.5" height="2" fill="url(#cr74)" shape-rendering="crispEdges"/>
<rect x="380.5" y="801" width="245.5" height="2" fill="url(#cr75)" shape-rendering="crispEdges"/>
<rect x="380.5" y="803" width="245.5" height="2" fill="url(#cr76)" shape-rendering="crispEdges"/>
<rect x="380.5" y="805" width="245.5" height="2" fill="url(#cr77)" shape-rendering="crispEdges"/>
<rect x="380.5" y="807" width="245.5" height="2" fill="url(#cr78)" shape-rendering="crispEdges"/>
<rect x="380.5" y="809" width="245.5" height="2" fill="url(#cr79)" shape-rendering="crispEdges"/>
<rect x="380.5" y="811" width="245.5" height="2" fill="url(#cr80)" shape-rendering="crispEdges"/>
<rect x="380.5" y="813" width="245.5" height="2" fill="url(#cr81)" shape-rendering="crispEdges"/>
<rect x="380.5" y="815" width="245.5" height="2" fill="url(#cr82)" shape-rendering="crispEdges"/>
<rect x="380.5" y="817" width="245.5" height="2" fill="url(#cr83)" shape-rendering="crispEdges"/>
<rect x="380.5" y="819" width="245.5" height="2" fill="url(#cr84)" shape-rendering="crispEdges"/>
<rect x="380.5" y="821" width="245.5" height="2" fill="url(#cr85)" shape-rendering="crispEdges"/>
<rect x="380.5" y="823" width="245.5" height="2" fill="url(#cr86)" shape-rendering="crispEdges"/>
<rect x="380.5" y="825" width="245.5" height="2" fill="url(#cr87)" shape-rendering="crispEdges"/>
<rect x="380.5" y="827" width="245.5" height="2" fill="url(#cr88)" shape-rendering="crispEdges"/>
<rect x="380.5" y="651.5" width="245.5" height="177.0" fill="none" stroke="#8a8a8a" stroke-width="1.6"/>
<line x1="374.5" y1="665.5" x2="380.5" y2="665.5" stroke="#dddddd" stroke-width="1.5" />
<text x="345.22" y="670.8" font-size="14.8" fill="#e6e6e6" stroke="#e6e6e6" stroke-width="0.2" >0,35</text>
<line x1="374.5" y1="701.8" x2="380.5" y2="701.8" stroke="#dddddd" stroke-width="1.5" />
<text x="345.03" y="707.1" font-size="14.8" fill="#e6e6e6" stroke="#e6e6e6" stroke-width="0.2" >0,34</text>
<line x1="374.5" y1="736.8" x2="380.5" y2="736.8" stroke="#dddddd" stroke-width="1.5" />
<text x="345.25" y="742.1" font-size="14.8" fill="#e6e6e6" stroke="#e6e6e6" stroke-width="0.2" >0,33</text>
<line x1="374.5" y1="771.7" x2="380.5" y2="771.7" stroke="#dddddd" stroke-width="1.5" />
<text x="345.34" y="777" font-size="14.8" fill="#e6e6e6" stroke="#e6e6e6" stroke-width="0.2" >0,32</text>
<line x1="374.5" y1="807" x2="380.5" y2="807" stroke="#dddddd" stroke-width="1.5" />
<text x="345.32" y="812.3" font-size="14.8" fill="#e6e6e6" stroke="#e6e6e6" stroke-width="0.2" >0,31</text>
<line x1="390.5" y1="828.5" x2="390.5" y2="835" stroke="#dddddd" stroke-width="1.3" />
<text x="376.16" y="850.8" font-size="14.8" fill="#e6e6e6" stroke="#e6e6e6" stroke-width="0.2" >0,29</text>
<line x1="439.5" y1="828.5" x2="439.5" y2="835" stroke="#dddddd" stroke-width="1.3" />
<text x="429.25" y="850.8" font-size="14.8" fill="#e6e6e6" stroke="#e6e6e6" stroke-width="0.2" >0,3</text>
<line x1="488.5" y1="828.5" x2="488.5" y2="835" stroke="#dddddd" stroke-width="1.3" />
<text x="474.17" y="850.8" font-size="14.8" fill="#e6e6e6" stroke="#e6e6e6" stroke-width="0.2" >0,31</text>
<line x1="537.5" y1="828.5" x2="537.5" y2="835" stroke="#dddddd" stroke-width="1.3" />
<text x="523.18" y="850.8" font-size="14.8" fill="#e6e6e6" stroke="#e6e6e6" stroke-width="0.2" >0,32</text>
<line x1="586.5" y1="828.5" x2="586.5" y2="835" stroke="#dddddd" stroke-width="1.3" />
<text x="572.13" y="850.8" font-size="14.8" fill="#e6e6e6" stroke="#e6e6e6" stroke-width="0.2" >0,33</text>
<clipPath id="cieclip"><rect x="380.5" y="651.5" width="245.5" height="177.0"/></clipPath>
<path d="M 410 830 Q 512 750 626 679" fill="none" stroke="#000" stroke-width="2.8" clip-path="url(#cieclip)"/>
<rect x="495.5" y="732.5" width="14" height="14" fill="none" stroke="#000" stroke-width="1.6"/>
<circle cx="511.7" cy="730.2" r="4.3" fill="#4a4a4a" stroke="#000" stroke-width="1"/>
<circle cx="508.5" cy="732" r="4.3" fill="#505050" stroke="#000" stroke-width="1"/>
<circle cx="504" cy="737.5" r="4.3" fill="#6a6a6a" stroke="#000" stroke-width="1"/>
<circle cx="501.9" cy="739.9" r="4.3" fill="#dddddd" stroke="#000" stroke-width="1"/>
<circle cx="495.4" cy="740.6" r="4.3" fill="#ffffff" stroke="#000" stroke-width="1"/>
<circle cx="513.9" cy="746.7" r="4.3" fill="#1e1e1e" stroke="#000" stroke-width="1"/>
<rect x="636.5" y="642" width="14" height="28.7" fill="#000000" />
<rect x="650" y="642" width="793" height="15" fill="#2e2e2e" />
<rect x="650" y="657" width="793" height="13.7" fill="#151515" />
<rect x="636.5" y="670.7" width="14" height="27.1" fill="#2a2a2a" />
<rect x="650" y="670.7" width="793" height="27.1" fill="#3e3e3e" />
<rect x="636.5" y="697.8" width="14" height="26.6" fill="#262626" />
<rect x="650" y="697.8" width="793" height="26.6" fill="#7f7f7f" />
<rect x="636.5" y="724.4" width="14" height="26.3" fill="#2a2a2a" />
<rect x="650" y="724.4" width="793" height="26.3" fill="#3e3e3e" />
<rect x="636.5" y="750.7" width="14" height="27.2" fill="#262626" />
<rect x="650" y="750.7" width="793" height="27.2" fill="#7f7f7f" />
<rect x="636.5" y="777.9" width="14" height="26.3" fill="#2a2a2a" />
<rect x="650" y="777.9" width="793" height="26.3" fill="#3e3e3e" />
<rect x="636.5" y="804.2" width="14" height="26.6" fill="#262626" />
<rect x="650" y="804.2" width="793" height="26.6" fill="#7f7f7f" />
<rect x="636.5" y="830.8" width="14" height="25.7" fill="#2a2a2a" />
<rect x="650" y="830.8" width="793" height="25.7" fill="#3e3e3e" />
<text transform="translate(774.13 662.2) scale(0.9200 1)" font-size="15.9" fill="#ffffff" stroke="#ffffff" stroke-width="0.2" >0</text>
<text transform="translate(834.75 662.2) scale(0.9200 1)" font-size="15.9" fill="#ffffff" stroke="#ffffff" stroke-width="0.2" >10</text>
<text transform="translate(896.28 662.2) scale(0.9200 1)" font-size="15.9" fill="#ffffff" stroke="#ffffff" stroke-width="0.2" >20</text>
<text transform="translate(957.62 662.2) scale(0.9200 1)" font-size="15.9" fill="#ffffff" stroke="#ffffff" stroke-width="0.2" >30</text>
<text transform="translate(1019 662.2) scale(0.9200 1)" font-size="15.9" fill="#ffffff" stroke="#ffffff" stroke-width="0.2" >40</text>
<text transform="translate(1079.91 662.2) scale(0.9200 1)" font-size="15.9" fill="#ffffff" stroke="#ffffff" stroke-width="0.2" >50</text>
<text transform="translate(1140.92 662.2) scale(0.9200 1)" font-size="15.9" fill="#ffffff" stroke="#ffffff" stroke-width="0.2" >60</text>
<text transform="translate(1202.07 662.2) scale(0.9200 1)" font-size="15.9" fill="#ffffff" stroke="#ffffff" stroke-width="0.2" >70</text>
<text transform="translate(1263.34 662.2) scale(0.9200 1)" font-size="15.9" fill="#ffffff" stroke="#ffffff" stroke-width="0.2" >80</text>
<text transform="translate(1324.45 662.2) scale(0.9200 1)" font-size="15.9" fill="#ffffff" stroke="#ffffff" stroke-width="0.2" >90</text>
<text transform="translate(1385.19 662.2) scale(0.9200 1)" font-size="15.9" fill="#ffffff" stroke="#ffffff" stroke-width="0.2" >100</text>
<text transform="translate(653.85 690.5) scale(0.8380 1)" font-size="15.9" fill="#f2f2f2" stroke="#f2f2f2" stroke-width="0.2" >x: CIE31</text>
<text transform="translate(774.13 690.5) scale(0.9200 1)" font-size="15.9" fill="#f2f2f2" stroke="#f2f2f2" stroke-width="0.2" >0,30</text>
<text transform="translate(835.29 690.5) scale(0.9200 1)" font-size="15.9" fill="#f2f2f2" stroke="#f2f2f2" stroke-width="0.2" >0,31</text>
<text transform="translate(896.45 690.5) scale(0.9200 1)" font-size="15.9" fill="#f2f2f2" stroke="#f2f2f2" stroke-width="0.2" >0,31</text>
<text transform="translate(957.61 690.5) scale(0.9200 1)" font-size="15.9" fill="#f2f2f2" stroke="#f2f2f2" stroke-width="0.2" >0,31</text>
<text transform="translate(1018.77 690.5) scale(0.9200 1)" font-size="15.9" fill="#f2f2f2" stroke="#f2f2f2" stroke-width="0.2" >0,31</text>
<text transform="translate(1079.93 690.5) scale(0.9200 1)" font-size="15.9" fill="#f2f2f2" stroke="#f2f2f2" stroke-width="0.2" >0,31</text>
<text transform="translate(1141.09 690.5) scale(0.9200 1)" font-size="15.9" fill="#f2f2f2" stroke="#f2f2f2" stroke-width="0.2" >0,31</text>
<text transform="translate(1202.25 690.5) scale(0.9200 1)" font-size="15.9" fill="#f2f2f2" stroke="#f2f2f2" stroke-width="0.2" >0,31</text>
<text transform="translate(1263.41 690.5) scale(0.9200 1)" font-size="15.9" fill="#f2f2f2" stroke="#f2f2f2" stroke-width="0.2" >0,31</text>
<text transform="translate(1324.57 690.5) scale(0.9200 1)" font-size="15.9" fill="#f2f2f2" stroke="#f2f2f2" stroke-width="0.2" >0,31</text>
<text transform="translate(1385.73 690.5) scale(0.9200 1)" font-size="15.9" fill="#f2f2f2" stroke="#f2f2f2" stroke-width="0.2" >0,31</text>
<text transform="translate(653.97 717.6) scale(0.8461 1)" font-size="15.9" fill="#f2f2f2" stroke="#f2f2f2" stroke-width="0.2" >y: CIE31</text>
<text transform="translate(774.13 717.6) scale(0.9200 1)" font-size="15.9" fill="#f2f2f2" stroke="#f2f2f2" stroke-width="0.2" >0,29</text>
<text transform="translate(835.29 717.6) scale(0.9200 1)" font-size="15.9" fill="#f2f2f2" stroke="#f2f2f2" stroke-width="0.2" >0,33</text>
<text transform="translate(896.45 717.6) scale(0.9200 1)" font-size="15.9" fill="#f2f2f2" stroke="#f2f2f2" stroke-width="0.2" >0,33</text>
<text transform="translate(957.61 717.6) scale(0.9200 1)" font-size="15.9" fill="#f2f2f2" stroke="#f2f2f2" stroke-width="0.2" >0,33</text>
<text transform="translate(1018.77 717.6) scale(0.9200 1)" font-size="15.9" fill="#f2f2f2" stroke="#f2f2f2" stroke-width="0.2" >0,33</text>
<text transform="translate(1079.93 717.6) scale(0.9200 1)" font-size="15.9" fill="#f2f2f2" stroke="#f2f2f2" stroke-width="0.2" >0,33</text>
<text transform="translate(1141.09 717.6) scale(0.9200 1)" font-size="15.9" fill="#f2f2f2" stroke="#f2f2f2" stroke-width="0.2" >0,33</text>
<text transform="translate(1202.25 717.6) scale(0.9200 1)" font-size="15.9" fill="#f2f2f2" stroke="#f2f2f2" stroke-width="0.2" >0,33</text>
<text transform="translate(1263.41 717.6) scale(0.9200 1)" font-size="15.9" fill="#f2f2f2" stroke="#f2f2f2" stroke-width="0.2" >0,33</text>
<text transform="translate(1324.57 717.6) scale(0.9200 1)" font-size="15.9" fill="#f2f2f2" stroke="#f2f2f2" stroke-width="0.2" >0,33</text>
<text transform="translate(1385.73 717.6) scale(0.9200 1)" font-size="15.9" fill="#f2f2f2" stroke="#f2f2f2" stroke-width="0.2" >0,33</text>
<text transform="translate(653.69 744.2) scale(0.8883 1)" font-size="15.9" fill="#f2f2f2" stroke="#f2f2f2" stroke-width="0.2" >Y</text>
<text transform="translate(774.13 744.2) scale(0.9200 1)" font-size="15.9" fill="#f2f2f2" stroke="#f2f2f2" stroke-width="0.2" >0,24</text>
<text transform="translate(835.12 744.2) scale(0.9200 1)" font-size="15.9" fill="#f2f2f2" stroke="#f2f2f2" stroke-width="0.2" >2,57</text>
<text transform="translate(896.38 744.2) scale(0.9200 1)" font-size="15.9" fill="#f2f2f2" stroke="#f2f2f2" stroke-width="0.2" >8,50</text>
<text transform="translate(957.07 744.2) scale(0.9200 1)" font-size="15.9" fill="#f2f2f2" stroke="#f2f2f2" stroke-width="0.2" >18,15</text>
<text transform="translate(1018.78 744.2) scale(0.9200 1)" font-size="15.9" fill="#f2f2f2" stroke="#f2f2f2" stroke-width="0.2" >34,76</text>
<text transform="translate(1079.91 744.2) scale(0.9200 1)" font-size="15.9" fill="#f2f2f2" stroke="#f2f2f2" stroke-width="0.2" >56,20</text>
<text transform="translate(1141.02 744.2) scale(0.9200 1)" font-size="15.9" fill="#f2f2f2" stroke="#f2f2f2" stroke-width="0.2" >82,66</text>
<text transform="translate(1201.71 744.2) scale(0.9200 1)" font-size="15.9" fill="#f2f2f2" stroke="#f2f2f2" stroke-width="0.2" >116,45</text>
<text transform="translate(1262.87 744.2) scale(0.9200 1)" font-size="15.9" fill="#f2f2f2" stroke="#f2f2f2" stroke-width="0.2" >158,03</text>
<text transform="translate(1324.4 744.2) scale(0.9200 1)" font-size="15.9" fill="#f2f2f2" stroke="#f2f2f2" stroke-width="0.2" >206,86</text>
<text transform="translate(1385.56 744.2) scale(0.9200 1)" font-size="15.9" fill="#f2f2f2" stroke="#f2f2f2" stroke-width="0.2" >265,27</text>
<text transform="translate(653.69 770.5) scale(0.8777 1)" font-size="15.9" fill="#f2f2f2" stroke="#f2f2f2" stroke-width="0.2" >Target Y</text>
<text transform="translate(774.13 770.5) scale(0.9200 1)" font-size="15.9" fill="#f2f2f2" stroke="#f2f2f2" stroke-width="0.2" >0,00</text>
<text transform="translate(835.12 770.5) scale(0.9200 1)" font-size="15.9" fill="#f2f2f2" stroke="#f2f2f2" stroke-width="0.2" >2,74</text>
<text transform="translate(896.38 770.5) scale(0.9200 1)" font-size="15.9" fill="#f2f2f2" stroke="#f2f2f2" stroke-width="0.2" >8,78</text>
<text transform="translate(957.07 770.5) scale(0.9200 1)" font-size="15.9" fill="#f2f2f2" stroke="#f2f2f2" stroke-width="0.2" >19,17</text>
<text transform="translate(1018.78 770.5) scale(0.9200 1)" font-size="15.9" fill="#f2f2f2" stroke="#f2f2f2" stroke-width="0.2" >35,25</text>
<text transform="translate(1079.91 770.5) scale(0.9200 1)" font-size="15.9" fill="#f2f2f2" stroke="#f2f2f2" stroke-width="0.2" >57,26</text>
<text transform="translate(1141.02 770.5) scale(0.9200 1)" font-size="15.9" fill="#f2f2f2" stroke="#f2f2f2" stroke-width="0.2" >84,50</text>
<text transform="translate(1201.71 770.5) scale(0.9200 1)" font-size="15.9" fill="#f2f2f2" stroke="#f2f2f2" stroke-width="0.2" >118,10</text>
<text transform="translate(1262.87 770.5) scale(0.9200 1)" font-size="15.9" fill="#f2f2f2" stroke="#f2f2f2" stroke-width="0.2" >160,18</text>
<text transform="translate(1324.4 770.5) scale(0.9200 1)" font-size="15.9" fill="#f2f2f2" stroke="#f2f2f2" stroke-width="0.2" >209,91</text>
<text transform="translate(1385.56 770.5) scale(0.9200 1)" font-size="15.9" fill="#f2f2f2" stroke="#f2f2f2" stroke-width="0.2" >265,27</text>
<text transform="translate(653.24 797.7) scale(0.9485 1)" font-size="15.9" fill="#f2f2f2" stroke="#f2f2f2" stroke-width="0.2" >Gamma Log/Log</text>
<text transform="translate(773.59 797.7) scale(0.9200 1)" font-size="15.9" fill="#f2f2f2" stroke="#f2f2f2" stroke-width="0.2" >1,28</text>
<text transform="translate(835.12 797.7) scale(0.9200 1)" font-size="15.9" fill="#f2f2f2" stroke="#f2f2f2" stroke-width="0.2" >2,03</text>
<text transform="translate(896.28 797.7) scale(0.9200 1)" font-size="15.9" fill="#f2f2f2" stroke="#f2f2f2" stroke-width="0.2" >2,14</text>
<text transform="translate(957.44 797.7) scale(0.9200 1)" font-size="15.9" fill="#f2f2f2" stroke="#f2f2f2" stroke-width="0.2" >2,22</text>
<text transform="translate(1018.6 797.7) scale(0.9200 1)" font-size="15.9" fill="#f2f2f2" stroke="#f2f2f2" stroke-width="0.2" >2,22</text>
<text transform="translate(1079.76 797.7) scale(0.9200 1)" font-size="15.9" fill="#f2f2f2" stroke="#f2f2f2" stroke-width="0.2" >2,25</text>
<text transform="translate(1140.92 797.7) scale(0.9200 1)" font-size="15.9" fill="#f2f2f2" stroke="#f2f2f2" stroke-width="0.2" >2,28</text>
<text transform="translate(1202.08 797.7) scale(0.9200 1)" font-size="15.9" fill="#f2f2f2" stroke="#f2f2f2" stroke-width="0.2" >2,29</text>
<text transform="translate(1263.24 797.7) scale(0.9200 1)" font-size="15.9" fill="#f2f2f2" stroke="#f2f2f2" stroke-width="0.2" >2,32</text>
<text transform="translate(1324.4 797.7) scale(0.9200 1)" font-size="15.9" fill="#f2f2f2" stroke="#f2f2f2" stroke-width="0.2" >2,41</text>
<text transform="translate(1385.56 797.7) scale(0.9200 1)" font-size="15.9" fill="#f2f2f2" stroke="#f2f2f2" stroke-width="0.2" >2,27</text>
<text transform="translate(653.36 824) scale(0.7904 1)" font-size="15.9" fill="#f2f2f2" stroke="#f2f2f2" stroke-width="0.2" >CCT</text>
<text transform="translate(774.06 824) scale(0.9200 1)" font-size="15.9" fill="#f2f2f2" stroke="#f2f2f2" stroke-width="0.2" >8047,00</text>
<text transform="translate(835.12 824) scale(0.9200 1)" font-size="15.9" fill="#f2f2f2" stroke="#f2f2f2" stroke-width="0.2" >6396,00</text>
<text transform="translate(896.28 824) scale(0.9200 1)" font-size="15.9" fill="#f2f2f2" stroke="#f2f2f2" stroke-width="0.2" >6393,00</text>
<text transform="translate(957.44 824) scale(0.9200 1)" font-size="15.9" fill="#f2f2f2" stroke="#f2f2f2" stroke-width="0.2" >6422,00</text>
<text transform="translate(1018.6 824) scale(0.9200 1)" font-size="15.9" fill="#f2f2f2" stroke="#f2f2f2" stroke-width="0.2" >6519,00</text>
<text transform="translate(1079.76 824) scale(0.9200 1)" font-size="15.9" fill="#f2f2f2" stroke="#f2f2f2" stroke-width="0.2" >6486,00</text>
<text transform="translate(1140.92 824) scale(0.9200 1)" font-size="15.9" fill="#f2f2f2" stroke="#f2f2f2" stroke-width="0.2" >6527,00</text>
<text transform="translate(1202.08 824) scale(0.9200 1)" font-size="15.9" fill="#f2f2f2" stroke="#f2f2f2" stroke-width="0.2" >6484,00</text>
<text transform="translate(1263.24 824) scale(0.9200 1)" font-size="15.9" fill="#f2f2f2" stroke="#f2f2f2" stroke-width="0.2" >6498,00</text>
<text transform="translate(1324.4 824) scale(0.9200 1)" font-size="15.9" fill="#f2f2f2" stroke="#f2f2f2" stroke-width="0.2" >6520,00</text>
<text transform="translate(1385.56 824) scale(0.9200 1)" font-size="15.9" fill="#f2f2f2" stroke="#f2f2f2" stroke-width="0.2" >6585,00</text>
<text transform="translate(653.57 850.6) scale(0.9012 1)" font-size="15.9" fill="#f2f2f2" stroke="#f2f2f2" stroke-width="0.2" >ΔE 2000</text>
<text transform="translate(774.13 850.6) scale(0.9200 1)" font-size="15.9" fill="#f2f2f2" stroke="#f2f2f2" stroke-width="0.2" >0,83</text>
<text transform="translate(835.29 850.6) scale(0.9200 1)" font-size="15.9" fill="#f2f2f2" stroke="#f2f2f2" stroke-width="0.2" >0,79</text>
<text transform="translate(896.45 850.6) scale(0.9200 1)" font-size="15.9" fill="#f2f2f2" stroke="#f2f2f2" stroke-width="0.2" >0,46</text>
<text transform="translate(957.61 850.6) scale(0.9200 1)" font-size="15.9" fill="#f2f2f2" stroke="#f2f2f2" stroke-width="0.2" >0,80</text>
<text transform="translate(1018.77 850.6) scale(0.9200 1)" font-size="15.9" fill="#f2f2f2" stroke="#f2f2f2" stroke-width="0.2" >0,55</text>
<text transform="translate(1079.93 850.6) scale(0.9200 1)" font-size="15.9" fill="#f2f2f2" stroke="#f2f2f2" stroke-width="0.2" >0,44</text>
<text transform="translate(1141.09 850.6) scale(0.9200 1)" font-size="15.9" fill="#f2f2f2" stroke="#f2f2f2" stroke-width="0.2" >0,55</text>
<text transform="translate(1202.25 850.6) scale(0.9200 1)" font-size="15.9" fill="#f2f2f2" stroke="#f2f2f2" stroke-width="0.2" >0,36</text>
<text transform="translate(1263.41 850.6) scale(0.9200 1)" font-size="15.9" fill="#f2f2f2" stroke="#f2f2f2" stroke-width="0.2" >0,30</text>
<text transform="translate(1324.57 850.6) scale(0.9200 1)" font-size="15.9" fill="#f2f2f2" stroke="#f2f2f2" stroke-width="0.2" >0,36</text>
<text transform="translate(1385.73 850.6) scale(0.9200 1)" font-size="15.9" fill="#f2f2f2" stroke="#f2f2f2" stroke-width="0.2" >0,91</text></svg></body></html>
